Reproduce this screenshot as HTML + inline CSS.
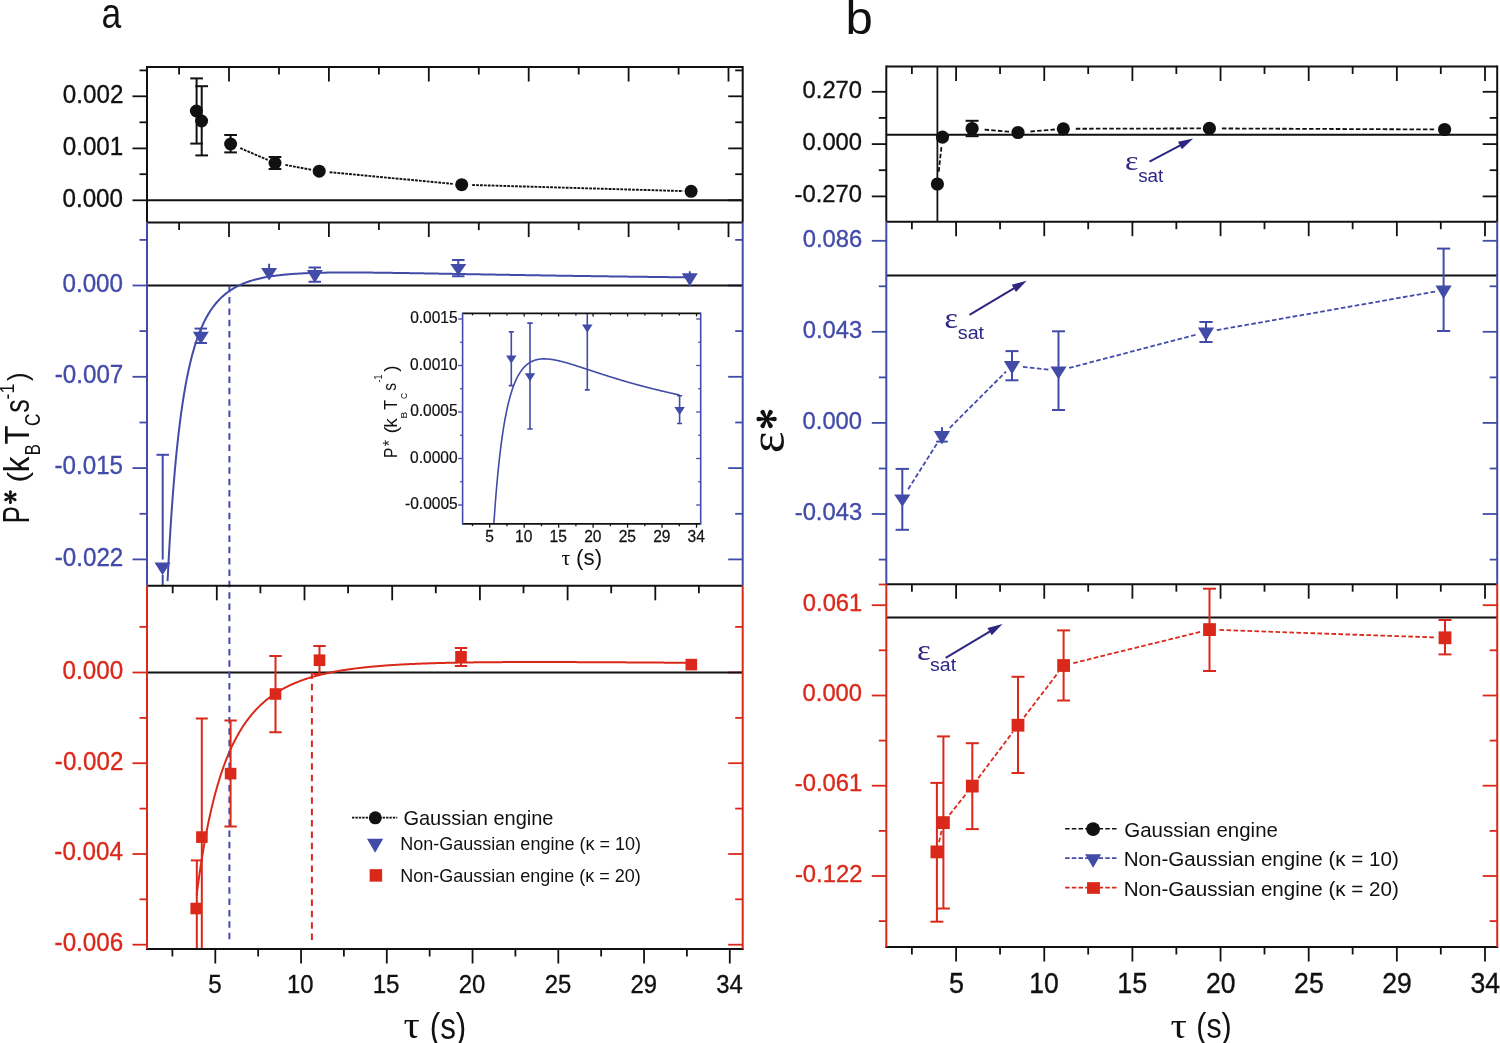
<!DOCTYPE html>
<html><head><meta charset="utf-8"><style>
html,body{margin:0;padding:0;background:#fff;}
svg{display:block;}
text{-webkit-font-smoothing:antialiased;}
</style></head><body>
<svg width="1500" height="1043" viewBox="0 0 1500 1043" font-family='"Liberation Sans", sans-serif'>
<rect width="1500" height="1043" fill="#fff"/>
<g style="will-change:transform">
<line x1="229.00" y1="67.00" x2="229.00" y2="81.50" stroke="#111" stroke-width="1.8" />
<line x1="328.90" y1="67.00" x2="328.90" y2="81.50" stroke="#111" stroke-width="1.8" />
<line x1="428.80" y1="67.00" x2="428.80" y2="81.50" stroke="#111" stroke-width="1.8" />
<line x1="528.70" y1="67.00" x2="528.70" y2="81.50" stroke="#111" stroke-width="1.8" />
<line x1="628.60" y1="67.00" x2="628.60" y2="81.50" stroke="#111" stroke-width="1.8" />
<line x1="728.50" y1="67.00" x2="728.50" y2="81.50" stroke="#111" stroke-width="1.8" />
<line x1="179.10" y1="67.00" x2="179.10" y2="74.50" stroke="#111" stroke-width="1.8" />
<line x1="279.00" y1="67.00" x2="279.00" y2="74.50" stroke="#111" stroke-width="1.8" />
<line x1="378.90" y1="67.00" x2="378.90" y2="74.50" stroke="#111" stroke-width="1.8" />
<line x1="478.80" y1="67.00" x2="478.80" y2="74.50" stroke="#111" stroke-width="1.8" />
<line x1="578.70" y1="67.00" x2="578.70" y2="74.50" stroke="#111" stroke-width="1.8" />
<line x1="678.60" y1="67.00" x2="678.60" y2="74.50" stroke="#111" stroke-width="1.8" />
<line x1="229.00" y1="222.60" x2="229.00" y2="237.10" stroke="#111" stroke-width="1.8" />
<line x1="328.90" y1="222.60" x2="328.90" y2="237.10" stroke="#111" stroke-width="1.8" />
<line x1="428.80" y1="222.60" x2="428.80" y2="237.10" stroke="#111" stroke-width="1.8" />
<line x1="528.70" y1="222.60" x2="528.70" y2="237.10" stroke="#111" stroke-width="1.8" />
<line x1="628.60" y1="222.60" x2="628.60" y2="237.10" stroke="#111" stroke-width="1.8" />
<line x1="728.50" y1="222.60" x2="728.50" y2="237.10" stroke="#111" stroke-width="1.8" />
<line x1="179.10" y1="222.60" x2="179.10" y2="230.10" stroke="#111" stroke-width="1.8" />
<line x1="279.00" y1="222.60" x2="279.00" y2="230.10" stroke="#111" stroke-width="1.8" />
<line x1="378.90" y1="222.60" x2="378.90" y2="230.10" stroke="#111" stroke-width="1.8" />
<line x1="478.80" y1="222.60" x2="478.80" y2="230.10" stroke="#111" stroke-width="1.8" />
<line x1="578.70" y1="222.60" x2="578.70" y2="230.10" stroke="#111" stroke-width="1.8" />
<line x1="678.60" y1="222.60" x2="678.60" y2="230.10" stroke="#111" stroke-width="1.8" />
<line x1="216.80" y1="585.80" x2="216.80" y2="600.30" stroke="#111" stroke-width="1.8" />
<line x1="304.50" y1="585.80" x2="304.50" y2="600.30" stroke="#111" stroke-width="1.8" />
<line x1="392.20" y1="585.80" x2="392.20" y2="600.30" stroke="#111" stroke-width="1.8" />
<line x1="479.90" y1="585.80" x2="479.90" y2="600.30" stroke="#111" stroke-width="1.8" />
<line x1="567.60" y1="585.80" x2="567.60" y2="600.30" stroke="#111" stroke-width="1.8" />
<line x1="655.30" y1="585.80" x2="655.30" y2="600.30" stroke="#111" stroke-width="1.8" />
<line x1="172.70" y1="585.80" x2="172.70" y2="593.30" stroke="#111" stroke-width="1.8" />
<line x1="260.40" y1="585.80" x2="260.40" y2="593.30" stroke="#111" stroke-width="1.8" />
<line x1="348.10" y1="585.80" x2="348.10" y2="593.30" stroke="#111" stroke-width="1.8" />
<line x1="435.80" y1="585.80" x2="435.80" y2="593.30" stroke="#111" stroke-width="1.8" />
<line x1="523.50" y1="585.80" x2="523.50" y2="593.30" stroke="#111" stroke-width="1.8" />
<line x1="611.20" y1="585.80" x2="611.20" y2="593.30" stroke="#111" stroke-width="1.8" />
<line x1="698.90" y1="585.80" x2="698.90" y2="593.30" stroke="#111" stroke-width="1.8" />
<line x1="215.30" y1="949.00" x2="215.30" y2="963.50" stroke="#111" stroke-width="1.8" />
<line x1="301.05" y1="949.00" x2="301.05" y2="963.50" stroke="#111" stroke-width="1.8" />
<line x1="386.80" y1="949.00" x2="386.80" y2="963.50" stroke="#111" stroke-width="1.8" />
<line x1="472.55" y1="949.00" x2="472.55" y2="963.50" stroke="#111" stroke-width="1.8" />
<line x1="558.30" y1="949.00" x2="558.30" y2="963.50" stroke="#111" stroke-width="1.8" />
<line x1="644.05" y1="949.00" x2="644.05" y2="963.50" stroke="#111" stroke-width="1.8" />
<line x1="729.80" y1="949.00" x2="729.80" y2="963.50" stroke="#111" stroke-width="1.8" />
<line x1="172.40" y1="949.00" x2="172.40" y2="956.50" stroke="#111" stroke-width="1.8" />
<line x1="258.15" y1="949.00" x2="258.15" y2="956.50" stroke="#111" stroke-width="1.8" />
<line x1="343.90" y1="949.00" x2="343.90" y2="956.50" stroke="#111" stroke-width="1.8" />
<line x1="429.65" y1="949.00" x2="429.65" y2="956.50" stroke="#111" stroke-width="1.8" />
<line x1="515.40" y1="949.00" x2="515.40" y2="956.50" stroke="#111" stroke-width="1.8" />
<line x1="601.15" y1="949.00" x2="601.15" y2="956.50" stroke="#111" stroke-width="1.8" />
<line x1="686.90" y1="949.00" x2="686.90" y2="956.50" stroke="#111" stroke-width="1.8" />
<line x1="132.50" y1="96.30" x2="147.00" y2="96.30" stroke="#111" stroke-width="1.8" />
<line x1="728.20" y1="96.30" x2="742.70" y2="96.30" stroke="#111" stroke-width="1.8" />
<line x1="132.50" y1="148.40" x2="147.00" y2="148.40" stroke="#111" stroke-width="1.8" />
<line x1="728.20" y1="148.40" x2="742.70" y2="148.40" stroke="#111" stroke-width="1.8" />
<line x1="132.50" y1="200.30" x2="147.00" y2="200.30" stroke="#111" stroke-width="1.8" />
<line x1="728.20" y1="200.30" x2="742.70" y2="200.30" stroke="#111" stroke-width="1.8" />
<line x1="139.50" y1="70.40" x2="147.00" y2="70.40" stroke="#111" stroke-width="1.8" />
<line x1="735.20" y1="70.40" x2="742.70" y2="70.40" stroke="#111" stroke-width="1.8" />
<line x1="139.50" y1="122.30" x2="147.00" y2="122.30" stroke="#111" stroke-width="1.8" />
<line x1="735.20" y1="122.30" x2="742.70" y2="122.30" stroke="#111" stroke-width="1.8" />
<line x1="139.50" y1="174.20" x2="147.00" y2="174.20" stroke="#111" stroke-width="1.8" />
<line x1="735.20" y1="174.20" x2="742.70" y2="174.20" stroke="#111" stroke-width="1.8" />
<text transform="translate(62.85,102.75) scale(0.9540,1)" font-size="25.35" fill="#111" stroke="#111" stroke-width="0.35" font-family='"Liberation Sans", sans-serif'>0.002</text>
<text transform="translate(62.73,154.85) scale(0.9540,1)" font-size="25.35" fill="#111" stroke="#111" stroke-width="0.35" font-family='"Liberation Sans", sans-serif'>0.001</text>
<text transform="translate(62.49,206.75) scale(0.9540,1)" font-size="25.35" fill="#111" stroke="#111" stroke-width="0.35" font-family='"Liberation Sans", sans-serif'>0.000</text>
<line x1="132.50" y1="285.50" x2="147.00" y2="285.50" stroke="#424BA8" stroke-width="1.8" />
<line x1="728.20" y1="285.50" x2="742.70" y2="285.50" stroke="#424BA8" stroke-width="1.8" />
<line x1="132.50" y1="376.80" x2="147.00" y2="376.80" stroke="#424BA8" stroke-width="1.8" />
<line x1="728.20" y1="376.80" x2="742.70" y2="376.80" stroke="#424BA8" stroke-width="1.8" />
<line x1="132.50" y1="468.10" x2="147.00" y2="468.10" stroke="#424BA8" stroke-width="1.8" />
<line x1="728.20" y1="468.10" x2="742.70" y2="468.10" stroke="#424BA8" stroke-width="1.8" />
<line x1="132.50" y1="559.40" x2="147.00" y2="559.40" stroke="#424BA8" stroke-width="1.8" />
<line x1="728.20" y1="559.40" x2="742.70" y2="559.40" stroke="#424BA8" stroke-width="1.8" />
<line x1="139.50" y1="239.90" x2="147.00" y2="239.90" stroke="#424BA8" stroke-width="1.8" />
<line x1="735.20" y1="239.90" x2="742.70" y2="239.90" stroke="#424BA8" stroke-width="1.8" />
<line x1="139.50" y1="331.10" x2="147.00" y2="331.10" stroke="#424BA8" stroke-width="1.8" />
<line x1="735.20" y1="331.10" x2="742.70" y2="331.10" stroke="#424BA8" stroke-width="1.8" />
<line x1="139.50" y1="422.50" x2="147.00" y2="422.50" stroke="#424BA8" stroke-width="1.8" />
<line x1="735.20" y1="422.50" x2="742.70" y2="422.50" stroke="#424BA8" stroke-width="1.8" />
<line x1="139.50" y1="513.80" x2="147.00" y2="513.80" stroke="#424BA8" stroke-width="1.8" />
<line x1="735.20" y1="513.80" x2="742.70" y2="513.80" stroke="#424BA8" stroke-width="1.8" />
<text transform="translate(62.49,291.85) scale(0.9540,1)" font-size="25.35" fill="#424BA8" stroke="#424BA8" stroke-width="0.35" font-family='"Liberation Sans", sans-serif'>0.000</text>
<text transform="translate(54.75,383.15) scale(0.9540,1)" font-size="25.35" fill="#424BA8" stroke="#424BA8" stroke-width="0.35" font-family='"Liberation Sans", sans-serif'>-0.007</text>
<text transform="translate(54.51,474.45) scale(0.9540,1)" font-size="25.35" fill="#424BA8" stroke="#424BA8" stroke-width="0.35" font-family='"Liberation Sans", sans-serif'>-0.015</text>
<text transform="translate(54.75,565.75) scale(0.9540,1)" font-size="25.35" fill="#424BA8" stroke="#424BA8" stroke-width="0.35" font-family='"Liberation Sans", sans-serif'>-0.022</text>
<line x1="132.50" y1="672.50" x2="147.00" y2="672.50" stroke="#DA291A" stroke-width="1.8" />
<line x1="728.20" y1="672.50" x2="742.70" y2="672.50" stroke="#DA291A" stroke-width="1.8" />
<line x1="132.50" y1="763.20" x2="147.00" y2="763.20" stroke="#DA291A" stroke-width="1.8" />
<line x1="728.20" y1="763.20" x2="742.70" y2="763.20" stroke="#DA291A" stroke-width="1.8" />
<line x1="132.50" y1="854.00" x2="147.00" y2="854.00" stroke="#DA291A" stroke-width="1.8" />
<line x1="728.20" y1="854.00" x2="742.70" y2="854.00" stroke="#DA291A" stroke-width="1.8" />
<line x1="132.50" y1="944.70" x2="147.00" y2="944.70" stroke="#DA291A" stroke-width="1.8" />
<line x1="728.20" y1="944.70" x2="742.70" y2="944.70" stroke="#DA291A" stroke-width="1.8" />
<line x1="139.50" y1="626.90" x2="147.00" y2="626.90" stroke="#DA291A" stroke-width="1.8" />
<line x1="735.20" y1="626.90" x2="742.70" y2="626.90" stroke="#DA291A" stroke-width="1.8" />
<line x1="139.50" y1="717.90" x2="147.00" y2="717.90" stroke="#DA291A" stroke-width="1.8" />
<line x1="735.20" y1="717.90" x2="742.70" y2="717.90" stroke="#DA291A" stroke-width="1.8" />
<line x1="139.50" y1="808.60" x2="147.00" y2="808.60" stroke="#DA291A" stroke-width="1.8" />
<line x1="735.20" y1="808.60" x2="742.70" y2="808.60" stroke="#DA291A" stroke-width="1.8" />
<line x1="139.50" y1="899.30" x2="147.00" y2="899.30" stroke="#DA291A" stroke-width="1.8" />
<line x1="735.20" y1="899.30" x2="742.70" y2="899.30" stroke="#DA291A" stroke-width="1.8" />
<text transform="translate(62.59,678.85) scale(0.9540,1)" font-size="25.35" fill="#DA291A" stroke="#DA291A" stroke-width="0.35" font-family='"Liberation Sans", sans-serif'>0.000</text>
<text transform="translate(54.85,769.55) scale(0.9540,1)" font-size="25.35" fill="#DA291A" stroke="#DA291A" stroke-width="0.35" font-family='"Liberation Sans", sans-serif'>-0.002</text>
<text transform="translate(54.36,860.35) scale(0.9540,1)" font-size="25.35" fill="#DA291A" stroke="#DA291A" stroke-width="0.35" font-family='"Liberation Sans", sans-serif'>-0.004</text>
<text transform="translate(54.61,951.05) scale(0.9540,1)" font-size="25.35" fill="#DA291A" stroke="#DA291A" stroke-width="0.35" font-family='"Liberation Sans", sans-serif'>-0.006</text>
<line x1="147.00" y1="200.30" x2="742.70" y2="200.30" stroke="#111" stroke-width="2" />
<line x1="147.00" y1="285.50" x2="742.70" y2="285.50" stroke="#111" stroke-width="2" />
<line x1="147.00" y1="672.50" x2="742.70" y2="672.50" stroke="#111" stroke-width="2" />
<text transform="translate(208.29,992.64) scale(0.9300,1)" font-size="26.00" fill="#111" stroke="#111" stroke-width="0.35" font-family='"Liberation Sans", sans-serif'>5</text>
<text transform="translate(287.04,992.64) scale(0.9300,1)" font-size="25.63" fill="#111" stroke="#111" stroke-width="0.35" font-family='"Liberation Sans", sans-serif'>10</text>
<text transform="translate(372.66,992.64) scale(0.9300,1)" font-size="26.00" fill="#111" stroke="#111" stroke-width="0.35" font-family='"Liberation Sans", sans-serif'>15</text>
<text transform="translate(458.84,992.64) scale(0.9300,1)" font-size="25.63" fill="#111" stroke="#111" stroke-width="0.35" font-family='"Liberation Sans", sans-serif'>20</text>
<text transform="translate(544.65,992.64) scale(0.9300,1)" font-size="25.63" fill="#111" stroke="#111" stroke-width="0.35" font-family='"Liberation Sans", sans-serif'>25</text>
<text transform="translate(630.46,992.64) scale(0.9300,1)" font-size="25.63" fill="#111" stroke="#111" stroke-width="0.35" font-family='"Liberation Sans", sans-serif'>29</text>
<text transform="translate(716.15,992.64) scale(0.9300,1)" font-size="25.63" fill="#111" stroke="#111" stroke-width="0.35" font-family='"Liberation Sans", sans-serif'>34</text>
<clipPath id="clipMid"><rect x="147.0" y="222.6" width="595.7" height="363.19999999999993"/></clipPath>
<clipPath id="clipRed"><rect x="147.0" y="585.8" width="595.7" height="363.20000000000005"/></clipPath>
<g clip-path="url(#clipMid)">
<polyline points="167.55,581.12 168.60,560.90 169.65,542.39 170.70,525.42 171.75,509.82 172.79,495.46 173.84,482.22 174.89,469.98 175.94,458.65 176.99,448.14 178.04,438.39 179.09,429.31 180.14,420.87 181.19,412.99 182.24,405.63 183.29,398.76 184.33,392.32 185.38,386.29 186.43,380.63 187.48,375.32 188.53,370.33 189.58,365.63 190.63,361.21 191.68,357.04 192.73,353.11 193.78,349.40 194.83,345.89 195.87,342.57 196.92,339.43 197.97,336.46 199.02,333.64 200.07,330.97 201.12,328.43 202.17,326.03 203.22,323.74 204.27,321.57 205.32,319.50 206.37,317.53 207.41,315.66 208.46,313.87 209.51,312.17 210.56,310.55 211.61,309.00 212.66,307.53 213.71,306.12 214.76,304.77 215.81,303.48 216.86,302.25 217.91,301.07 218.95,299.95 220.00,298.87 221.05,297.84 222.10,296.85 223.15,295.90 224.20,294.99 225.25,294.12 226.30,293.29 227.35,292.49 228.40,291.72 229.45,290.98 230.49,290.27 231.54,289.59 232.59,288.94 233.64,288.31 234.69,287.71 235.74,287.13 236.79,286.57 237.84,286.04 238.89,285.52 239.94,285.03 240.99,284.55 242.04,284.09 243.08,283.65 244.13,283.22 245.18,282.81 246.23,282.42 247.28,282.04 248.33,281.68 249.38,281.32 250.43,280.98 251.48,280.66 252.53,280.34 253.58,280.04 254.62,279.74 255.67,279.46 256.72,279.19 257.77,278.93 258.82,278.67 259.87,278.43 260.92,278.20 261.97,277.97 263.02,277.75 264.07,277.54 265.12,277.34 266.16,277.14 267.21,276.95 268.26,276.77 269.31,276.59 270.36,276.42 271.41,276.26 272.46,276.10 273.51,275.95 274.56,275.80 275.61,275.66 276.66,275.52 277.70,275.39 278.75,275.26 279.80,275.14 280.85,275.02 281.90,274.91 282.95,274.80 284.00,274.70 285.05,274.59 286.10,274.50 287.15,274.40 288.20,274.31 289.24,274.22 290.29,274.14 291.34,274.06 292.39,273.98 293.44,273.90 294.49,273.83 295.54,273.76 296.59,273.69 297.64,273.63 298.69,273.57 299.74,273.51 300.78,273.45 301.83,273.40 302.88,273.35 303.93,273.29 304.98,273.25 306.03,273.20 307.08,273.16 308.13,273.11 309.18,273.07 310.23,273.03 311.28,273.00 312.32,272.96 313.37,272.93 314.42,272.90 315.47,272.87 316.52,272.84 317.57,272.81 318.62,272.78 319.67,272.76 320.72,272.74 321.77,272.71 322.82,272.69 323.86,272.67 324.91,272.65 325.96,272.64 327.01,272.62 328.06,272.61 329.11,272.59 330.16,272.58 331.21,272.57 332.26,272.55 333.31,272.54 334.36,272.53 335.40,272.53 336.45,272.52 337.50,272.51 338.55,272.51 339.60,272.50 340.65,272.50 341.70,272.49 342.75,272.49 343.80,272.49 344.85,272.48 345.90,272.48 346.94,272.48 347.99,272.48 349.04,272.48 350.09,272.48 351.14,272.49 352.19,272.49 353.24,272.49 354.29,272.50 355.34,272.50 356.39,272.50 357.44,272.51 358.48,272.51 359.53,272.52 360.58,272.53 361.63,272.53 362.68,272.54 363.73,272.55 364.78,272.56 365.83,272.56 366.88,272.57 367.93,272.58 368.98,272.59 370.03,272.60 371.07,272.61 372.12,272.62 373.17,272.63 374.22,272.64 375.27,272.65 376.32,272.67 377.37,272.68 378.42,272.69 379.47,272.70 380.52,272.71 381.57,272.73 382.61,272.74 383.66,272.75 384.71,272.77 385.76,272.78 386.81,272.79 387.86,272.81 388.91,272.82 389.96,272.84 391.01,272.85 392.06,272.87 393.11,272.88 394.15,272.90 395.20,272.91 396.25,272.93 397.30,272.94 398.35,272.96 399.40,272.97 400.45,272.99 401.50,273.01 402.55,273.02 403.60,273.04 404.65,273.05 405.69,273.07 406.74,273.09 407.79,273.10 408.84,273.12 409.89,273.14 410.94,273.16 411.99,273.17 413.04,273.19 414.09,273.21 415.14,273.22 416.19,273.24 417.23,273.26 418.28,273.28 419.33,273.29 420.38,273.31 421.43,273.33 422.48,273.35 423.53,273.37 424.58,273.38 425.63,273.40 426.68,273.42 427.73,273.44 428.77,273.46 429.82,273.47 430.87,273.49 431.92,273.51 432.97,273.53 434.02,273.55 435.07,273.57 436.12,273.59 437.17,273.60 438.22,273.62 439.27,273.64 440.31,273.66 441.36,273.68 442.41,273.70 443.46,273.71 444.51,273.73 445.56,273.75 446.61,273.77 447.66,273.79 448.71,273.81 449.76,273.83 450.81,273.85 451.85,273.86 452.90,273.88 453.95,273.90 455.00,273.92 456.05,273.94 457.10,273.96 458.15,273.98 459.20,273.99 460.25,274.01 461.30,274.03 462.35,274.05 463.39,274.07 464.44,274.09 465.49,274.11 466.54,274.13 467.59,274.14 468.64,274.16 469.69,274.18 470.74,274.20 471.79,274.22 472.84,274.24 473.89,274.26 474.93,274.27 475.98,274.29 477.03,274.31 478.08,274.33 479.13,274.35 480.18,274.37 481.23,274.38 482.28,274.40 483.33,274.42 484.38,274.44 485.43,274.46 486.47,274.48 487.52,274.49 488.57,274.51 489.62,274.53 490.67,274.55 491.72,274.57 492.77,274.59 493.82,274.60 494.87,274.62 495.92,274.64 496.97,274.66 498.02,274.68 499.06,274.69 500.11,274.71 501.16,274.73 502.21,274.75 503.26,274.77 504.31,274.78 505.36,274.80 506.41,274.82 507.46,274.84 508.51,274.85 509.56,274.87 510.60,274.89 511.65,274.91 512.70,274.92 513.75,274.94 514.80,274.96 515.85,274.98 516.90,274.99 517.95,275.01 519.00,275.03 520.05,275.05 521.10,275.06 522.14,275.08 523.19,275.10 524.24,275.12 525.29,275.13 526.34,275.15 527.39,275.17 528.44,275.18 529.49,275.20 530.54,275.22 531.59,275.24 532.64,275.25 533.68,275.27 534.73,275.29 535.78,275.30 536.83,275.32 537.88,275.34 538.93,275.35 539.98,275.37 541.03,275.39 542.08,275.40 543.13,275.42 544.18,275.44 545.22,275.45 546.27,275.47 547.32,275.48 548.37,275.50 549.42,275.52 550.47,275.53 551.52,275.55 552.57,275.57 553.62,275.58 554.67,275.60 555.72,275.61 556.76,275.63 557.81,275.65 558.86,275.66 559.91,275.68 560.96,275.69 562.01,275.71 563.06,275.73 564.11,275.74 565.16,275.76 566.21,275.77 567.26,275.79 568.30,275.80 569.35,275.82 570.40,275.84 571.45,275.85 572.50,275.87 573.55,275.88 574.60,275.90 575.65,275.91 576.70,275.93 577.75,275.94 578.80,275.96 579.84,275.97 580.89,275.99 581.94,276.00 582.99,276.02 584.04,276.03 585.09,276.05 586.14,276.06 587.19,276.08 588.24,276.09 589.29,276.11 590.34,276.12 591.38,276.14 592.43,276.15 593.48,276.17 594.53,276.18 595.58,276.20 596.63,276.21 597.68,276.23 598.73,276.24 599.78,276.26 600.83,276.27 601.88,276.28 602.92,276.30 603.97,276.31 605.02,276.33 606.07,276.34 607.12,276.36 608.17,276.37 609.22,276.38 610.27,276.40 611.32,276.41 612.37,276.43 613.42,276.44 614.46,276.45 615.51,276.47 616.56,276.48 617.61,276.50 618.66,276.51 619.71,276.52 620.76,276.54 621.81,276.55 622.86,276.56 623.91,276.58 624.96,276.59 626.01,276.61 627.05,276.62 628.10,276.63 629.15,276.65 630.20,276.66 631.25,276.67 632.30,276.69 633.35,276.70 634.40,276.71 635.45,276.73 636.50,276.74 637.55,276.75 638.59,276.77 639.64,276.78 640.69,276.79 641.74,276.81 642.79,276.82 643.84,276.83 644.89,276.84 645.94,276.86 646.99,276.87 648.04,276.88 649.09,276.90 650.13,276.91 651.18,276.92 652.23,276.93 653.28,276.95 654.33,276.96 655.38,276.97 656.43,276.98 657.48,277.00 658.53,277.01 659.58,277.02 660.63,277.03 661.67,277.05 662.72,277.06 663.77,277.07 664.82,277.08 665.87,277.10 666.92,277.11 667.97,277.12 669.02,277.13 670.07,277.15 671.12,277.16 672.17,277.17 673.21,277.18 674.26,277.19 675.31,277.21 676.36,277.22 677.41,277.23 678.46,277.24 679.51,277.25 680.56,277.27 681.61,277.28 682.66,277.29 683.71,277.30 684.75,277.31 685.80,277.32 686.85,277.34 687.90,277.35 688.95,277.36 690.00,277.37" fill="none" stroke="#424BA8" stroke-width="2.0"  stroke-linejoin="round"/>
</g>
<polyline points="196.60,895.42 197.59,887.80 198.58,880.50 199.57,873.51 200.56,866.82 201.55,860.40 202.54,854.24 203.54,848.33 204.53,842.65 205.52,837.20 206.51,831.96 207.50,826.92 208.49,822.08 209.48,817.42 210.47,812.93 211.46,808.61 212.45,804.44 213.44,800.43 214.43,796.56 215.42,792.83 216.42,789.23 217.41,785.76 218.40,782.41 219.39,779.17 220.38,776.04 221.37,773.01 222.36,770.09 223.35,767.27 224.34,764.53 225.33,761.89 226.32,759.33 227.31,756.85 228.31,754.45 229.30,752.12 230.29,749.87 231.28,747.69 232.27,745.57 233.26,743.52 234.25,741.53 235.24,739.60 236.23,737.73 237.22,735.91 238.21,734.15 239.20,732.44 240.19,730.77 241.19,729.16 242.18,727.59 243.17,726.06 244.16,724.58 245.15,723.14 246.14,721.74 247.13,720.38 248.12,719.05 249.11,717.76 250.10,716.51 251.09,715.28 252.08,714.10 253.07,712.94 254.07,711.81 255.06,710.72 256.05,709.65 257.04,708.61 258.03,707.59 259.02,706.60 260.01,705.64 261.00,704.70 261.99,703.79 262.98,702.89 263.97,702.02 264.96,701.17 265.95,700.34 266.95,699.54 267.94,698.75 268.93,697.98 269.92,697.23 270.91,696.49 271.90,695.78 272.89,695.08 273.88,694.40 274.87,693.73 275.86,693.08 276.85,692.45 277.84,691.83 278.83,691.22 279.83,690.63 280.82,690.05 281.81,689.48 282.80,688.93 283.79,688.39 284.78,687.86 285.77,687.34 286.76,686.83 287.75,686.34 288.74,685.86 289.73,685.38 290.72,684.92 291.72,684.47 292.71,684.03 293.70,683.59 294.69,683.17 295.68,682.75 296.67,682.35 297.66,681.95 298.65,681.56 299.64,681.18 300.63,680.81 301.62,680.44 302.61,680.08 303.60,679.73 304.60,679.39 305.59,679.05 306.58,678.72 307.57,678.40 308.56,678.09 309.55,677.78 310.54,677.47 311.53,677.18 312.52,676.89 313.51,676.60 314.50,676.32 315.49,676.05 316.48,675.78 317.48,675.52 318.47,675.26 319.46,675.01 320.45,674.76 321.44,674.51 322.43,674.28 323.42,674.04 324.41,673.81 325.40,673.59 326.39,673.37 327.38,673.15 328.37,672.94 329.36,672.73 330.36,672.53 331.35,672.33 332.34,672.13 333.33,671.94 334.32,671.75 335.31,671.57 336.30,671.38 337.29,671.21 338.28,671.03 339.27,670.86 340.26,670.69 341.25,670.53 342.24,670.36 343.24,670.20 344.23,670.05 345.22,669.89 346.21,669.74 347.20,669.60 348.19,669.45 349.18,669.31 350.17,669.17 351.16,669.03 352.15,668.90 353.14,668.76 354.13,668.63 355.13,668.51 356.12,668.38 357.11,668.26 358.10,668.14 359.09,668.02 360.08,667.90 361.07,667.79 362.06,667.68 363.05,667.57 364.04,667.46 365.03,667.35 366.02,667.25 367.01,667.15 368.01,667.05 369.00,666.95 369.99,666.85 370.98,666.75 371.97,666.66 372.96,666.57 373.95,666.48 374.94,666.39 375.93,666.30 376.92,666.22 377.91,666.13 378.90,666.05 379.89,665.97 380.89,665.89 381.88,665.81 382.87,665.74 383.86,665.66 384.85,665.59 385.84,665.51 386.83,665.44 387.82,665.37 388.81,665.30 389.80,665.24 390.79,665.17 391.78,665.10 392.77,665.04 393.77,664.98 394.76,664.91 395.75,664.85 396.74,664.79 397.73,664.74 398.72,664.68 399.71,664.62 400.70,664.57 401.69,664.51 402.68,664.46 403.67,664.41 404.66,664.35 405.65,664.30 406.65,664.25 407.64,664.20 408.63,664.16 409.62,664.11 410.61,664.06 411.60,664.02 412.59,663.97 413.58,663.93 414.57,663.89 415.56,663.84 416.55,663.80 417.54,663.76 418.54,663.72 419.53,663.68 420.52,663.64 421.51,663.61 422.50,663.57 423.49,663.53 424.48,663.50 425.47,663.46 426.46,663.43 427.45,663.39 428.44,663.36 429.43,663.33 430.42,663.30 431.42,663.26 432.41,663.23 433.40,663.20 434.39,663.17 435.38,663.15 436.37,663.12 437.36,663.09 438.35,663.06 439.34,663.04 440.33,663.01 441.32,662.98 442.31,662.96 443.30,662.93 444.30,662.91 445.29,662.88 446.28,662.86 447.27,662.84 448.26,662.82 449.25,662.79 450.24,662.77 451.23,662.75 452.22,662.73 453.21,662.71 454.20,662.69 455.19,662.67 456.18,662.65 457.18,662.63 458.17,662.62 459.16,662.60 460.15,662.58 461.14,662.56 462.13,662.55 463.12,662.53 464.11,662.52 465.10,662.50 466.09,662.48 467.08,662.47 468.07,662.45 469.06,662.44 470.06,662.43 471.05,662.41 472.04,662.40 473.03,662.39 474.02,662.37 475.01,662.36 476.00,662.35 476.99,662.34 477.98,662.33 478.97,662.32 479.96,662.30 480.95,662.29 481.95,662.28 482.94,662.27 483.93,662.26 484.92,662.25 485.91,662.25 486.90,662.24 487.89,662.23 488.88,662.22 489.87,662.21 490.86,662.20 491.85,662.20 492.84,662.19 493.83,662.18 494.83,662.17 495.82,662.17 496.81,662.16 497.80,662.15 498.79,662.15 499.78,662.14 500.77,662.14 501.76,662.13 502.75,662.12 503.74,662.12 504.73,662.11 505.72,662.11 506.71,662.10 507.71,662.10 508.70,662.10 509.69,662.09 510.68,662.09 511.67,662.08 512.66,662.08 513.65,662.08 514.64,662.07 515.63,662.07 516.62,662.07 517.61,662.07 518.60,662.06 519.59,662.06 520.59,662.06 521.58,662.06 522.57,662.05 523.56,662.05 524.55,662.05 525.54,662.05 526.53,662.05 527.52,662.05 528.51,662.05 529.50,662.04 530.49,662.04 531.48,662.04 532.47,662.04 533.47,662.04 534.46,662.04 535.45,662.04 536.44,662.04 537.43,662.04 538.42,662.04 539.41,662.04 540.40,662.04 541.39,662.04 542.38,662.04 543.37,662.04 544.36,662.05 545.36,662.05 546.35,662.05 547.34,662.05 548.33,662.05 549.32,662.05 550.31,662.05 551.30,662.05 552.29,662.06 553.28,662.06 554.27,662.06 555.26,662.06 556.25,662.06 557.24,662.07 558.24,662.07 559.23,662.07 560.22,662.07 561.21,662.08 562.20,662.08 563.19,662.08 564.18,662.08 565.17,662.09 566.16,662.09 567.15,662.09 568.14,662.10 569.13,662.10 570.12,662.10 571.12,662.11 572.11,662.11 573.10,662.11 574.09,662.12 575.08,662.12 576.07,662.12 577.06,662.13 578.05,662.13 579.04,662.13 580.03,662.14 581.02,662.14 582.01,662.15 583.00,662.15 584.00,662.15 584.99,662.16 585.98,662.16 586.97,662.17 587.96,662.17 588.95,662.18 589.94,662.18 590.93,662.19 591.92,662.19 592.91,662.19 593.90,662.20 594.89,662.20 595.88,662.21 596.88,662.21 597.87,662.22 598.86,662.22 599.85,662.23 600.84,662.23 601.83,662.24 602.82,662.24 603.81,662.25 604.80,662.25 605.79,662.26 606.78,662.27 607.77,662.27 608.77,662.28 609.76,662.28 610.75,662.29 611.74,662.29 612.73,662.30 613.72,662.30 614.71,662.31 615.70,662.32 616.69,662.32 617.68,662.33 618.67,662.33 619.66,662.34 620.65,662.34 621.65,662.35 622.64,662.36 623.63,662.36 624.62,662.37 625.61,662.37 626.60,662.38 627.59,662.39 628.58,662.39 629.57,662.40 630.56,662.41 631.55,662.41 632.54,662.42 633.53,662.42 634.53,662.43 635.52,662.44 636.51,662.44 637.50,662.45 638.49,662.46 639.48,662.46 640.47,662.47 641.46,662.48 642.45,662.48 643.44,662.49 644.43,662.49 645.42,662.50 646.41,662.51 647.41,662.51 648.40,662.52 649.39,662.53 650.38,662.53 651.37,662.54 652.36,662.55 653.35,662.55 654.34,662.56 655.33,662.57 656.32,662.57 657.31,662.58 658.30,662.59 659.29,662.60 660.29,662.60 661.28,662.61 662.27,662.62 663.26,662.62 664.25,662.63 665.24,662.64 666.23,662.64 667.22,662.65 668.21,662.66 669.20,662.66 670.19,662.67 671.18,662.68 672.18,662.69 673.17,662.69 674.16,662.70 675.15,662.71 676.14,662.71 677.13,662.72 678.12,662.73 679.11,662.74 680.10,662.74 681.09,662.75 682.08,662.76 683.07,662.76 684.06,662.77 685.06,662.78 686.05,662.79 687.04,662.79 688.03,662.80 689.02,662.81 690.01,662.82 691.00,662.82" fill="none" stroke="#DA291A" stroke-width="2.0"  stroke-linejoin="round"/>
<line x1="229.40" y1="285.70" x2="229.40" y2="939.30" stroke="#424BA8" stroke-width="2.0" stroke-dasharray="6.5 4.85"/>
<line x1="311.90" y1="672.50" x2="311.90" y2="941.00" stroke="#DA291A" stroke-width="2.0" stroke-dasharray="6.5 4.85"/>
<line x1="196.60" y1="78.40" x2="196.60" y2="143.60" stroke="#111" stroke-width="2.0" />
<line x1="190.25" y1="78.40" x2="202.95" y2="78.40" stroke="#111" stroke-width="2.0" />
<line x1="190.25" y1="143.60" x2="202.95" y2="143.60" stroke="#111" stroke-width="2.0" />
<line x1="201.70" y1="86.20" x2="201.70" y2="155.40" stroke="#111" stroke-width="2.0" />
<line x1="195.35" y1="86.20" x2="208.05" y2="86.20" stroke="#111" stroke-width="2.0" />
<line x1="195.35" y1="155.40" x2="208.05" y2="155.40" stroke="#111" stroke-width="2.0" />
<line x1="230.60" y1="135.00" x2="230.60" y2="152.40" stroke="#111" stroke-width="2.0" />
<line x1="224.25" y1="135.00" x2="236.95" y2="135.00" stroke="#111" stroke-width="2.0" />
<line x1="224.25" y1="152.40" x2="236.95" y2="152.40" stroke="#111" stroke-width="2.0" />
<line x1="275.00" y1="157.00" x2="275.00" y2="169.00" stroke="#111" stroke-width="2.0" />
<line x1="268.65" y1="157.00" x2="281.35" y2="157.00" stroke="#111" stroke-width="2.0" />
<line x1="268.65" y1="169.00" x2="281.35" y2="169.00" stroke="#111" stroke-width="2.0" />
<line x1="240.25" y1="148.13" x2="267.65" y2="159.85" stroke="#111" stroke-width="1.9" stroke-dasharray="2.8 1.1"/>
<line x1="285.32" y1="164.92" x2="311.33" y2="169.74" stroke="#111" stroke-width="1.9" stroke-dasharray="2.8 1.1"/>
<line x1="329.65" y1="172.19" x2="453.74" y2="183.95" stroke="#111" stroke-width="1.9" stroke-dasharray="2.8 1.1"/>
<line x1="472.20" y1="185.00" x2="683.10" y2="191.07" stroke="#111" stroke-width="1.9" stroke-dasharray="2.8 1.1"/>
<circle cx="196.40" cy="111.00" r="6.5" fill="#111"/>
<circle cx="201.60" cy="121.00" r="6.5" fill="#111"/>
<circle cx="230.60" cy="144.00" r="6.5" fill="#111"/>
<circle cx="275.00" cy="163.00" r="6.5" fill="#111"/>
<circle cx="319.20" cy="171.20" r="6.5" fill="#111"/>
<circle cx="461.70" cy="184.70" r="6.5" fill="#111"/>
<circle cx="691.10" cy="191.30" r="6.5" fill="#111"/>
<g clip-path="url(#clipMid)">
<line x1="162.70" y1="454.80" x2="162.70" y2="559.50" stroke="#424BA8" stroke-width="2.0" />
<line x1="156.45" y1="454.80" x2="168.95" y2="454.80" stroke="#424BA8" stroke-width="2.0" />
<line x1="162.70" y1="575.00" x2="162.70" y2="600.00" stroke="#424BA8" stroke-width="2.0" />
<line x1="200.80" y1="328.60" x2="200.80" y2="343.00" stroke="#424BA8" stroke-width="2.0" />
<line x1="194.55" y1="328.60" x2="207.05" y2="328.60" stroke="#424BA8" stroke-width="2.0" />
<line x1="194.55" y1="343.00" x2="207.05" y2="343.00" stroke="#424BA8" stroke-width="2.0" />
<line x1="269.10" y1="263.80" x2="269.10" y2="278.00" stroke="#424BA8" stroke-width="2.0" />
<line x1="314.80" y1="267.60" x2="314.80" y2="281.70" stroke="#424BA8" stroke-width="2.0" />
<line x1="308.55" y1="267.60" x2="321.05" y2="267.60" stroke="#424BA8" stroke-width="2.0" />
<line x1="308.55" y1="281.70" x2="321.05" y2="281.70" stroke="#424BA8" stroke-width="2.0" />
<line x1="458.30" y1="260.00" x2="458.30" y2="276.20" stroke="#424BA8" stroke-width="2.0" />
<line x1="452.05" y1="260.00" x2="464.55" y2="260.00" stroke="#424BA8" stroke-width="2.0" />
<line x1="452.05" y1="276.20" x2="464.55" y2="276.20" stroke="#424BA8" stroke-width="2.0" />
<line x1="689.80" y1="271.20" x2="689.80" y2="286.60" stroke="#424BA8" stroke-width="2.0" />
<polygon points="154.50,562.50 170.50,562.50 162.50,575.30" fill="#424BA8"/>
<polygon points="192.80,331.70 208.80,331.70 200.80,344.30" fill="#424BA8"/>
<polygon points="261.10,268.00 277.10,268.00 269.10,280.60" fill="#424BA8"/>
<polygon points="306.80,270.00 322.80,270.00 314.80,283.00" fill="#424BA8"/>
<polygon points="450.30,264.00 466.30,264.00 458.30,275.50" fill="#424BA8"/>
<polygon points="681.80,273.20 697.80,273.20 689.80,286.00" fill="#424BA8"/>
</g>
<g clip-path="url(#clipRed)">
<line x1="196.80" y1="860.40" x2="196.80" y2="960.00" stroke="#DA291A" stroke-width="2.0" />
<line x1="190.80" y1="860.40" x2="202.80" y2="860.40" stroke="#DA291A" stroke-width="2.0" />
<line x1="201.80" y1="718.60" x2="201.80" y2="960.00" stroke="#DA291A" stroke-width="2.0" />
<line x1="195.80" y1="718.60" x2="207.80" y2="718.60" stroke="#DA291A" stroke-width="2.0" />
<line x1="230.60" y1="720.60" x2="230.60" y2="826.50" stroke="#DA291A" stroke-width="2.0" />
<line x1="224.40" y1="720.60" x2="236.80" y2="720.60" stroke="#DA291A" stroke-width="2.0" />
<line x1="224.40" y1="826.50" x2="236.80" y2="826.50" stroke="#DA291A" stroke-width="2.0" />
<line x1="275.50" y1="655.90" x2="275.50" y2="732.20" stroke="#DA291A" stroke-width="2.0" />
<line x1="269.30" y1="655.90" x2="281.70" y2="655.90" stroke="#DA291A" stroke-width="2.0" />
<line x1="269.30" y1="732.20" x2="281.70" y2="732.20" stroke="#DA291A" stroke-width="2.0" />
<line x1="319.50" y1="646.00" x2="319.50" y2="674.00" stroke="#DA291A" stroke-width="2.0" />
<line x1="313.30" y1="646.00" x2="325.70" y2="646.00" stroke="#DA291A" stroke-width="2.0" />
<line x1="313.30" y1="674.00" x2="325.70" y2="674.00" stroke="#DA291A" stroke-width="2.0" />
<line x1="461.00" y1="648.00" x2="461.00" y2="666.00" stroke="#DA291A" stroke-width="2.0" />
<line x1="454.80" y1="648.00" x2="467.20" y2="648.00" stroke="#DA291A" stroke-width="2.0" />
<line x1="454.80" y1="666.00" x2="467.20" y2="666.00" stroke="#DA291A" stroke-width="2.0" />
<rect x="190.40" y="902.70" width="11.6" height="11.6" fill="#DA291A"/>
<rect x="196.10" y="831.30" width="11.6" height="11.6" fill="#DA291A"/>
<rect x="224.80" y="767.80" width="11.6" height="11.6" fill="#DA291A"/>
<rect x="269.70" y="688.20" width="11.6" height="11.6" fill="#DA291A"/>
<rect x="313.70" y="654.40" width="11.6" height="11.6" fill="#DA291A"/>
<rect x="455.20" y="651.00" width="11.6" height="11.6" fill="#DA291A"/>
<rect x="685.50" y="658.80" width="11.6" height="11.6" fill="#DA291A"/>
</g>
<line x1="458.10" y1="319.00" x2="462.60" y2="319.00" stroke="#424BA8" stroke-width="1.3" />
<line x1="696.20" y1="319.00" x2="700.70" y2="319.00" stroke="#424BA8" stroke-width="1.3" />
<line x1="458.10" y1="365.50" x2="462.60" y2="365.50" stroke="#424BA8" stroke-width="1.3" />
<line x1="696.20" y1="365.50" x2="700.70" y2="365.50" stroke="#424BA8" stroke-width="1.3" />
<line x1="458.10" y1="412.00" x2="462.60" y2="412.00" stroke="#424BA8" stroke-width="1.3" />
<line x1="696.20" y1="412.00" x2="700.70" y2="412.00" stroke="#424BA8" stroke-width="1.3" />
<line x1="458.10" y1="458.50" x2="462.60" y2="458.50" stroke="#424BA8" stroke-width="1.3" />
<line x1="696.20" y1="458.50" x2="700.70" y2="458.50" stroke="#424BA8" stroke-width="1.3" />
<line x1="458.10" y1="505.00" x2="462.60" y2="505.00" stroke="#424BA8" stroke-width="1.3" />
<line x1="696.20" y1="505.00" x2="700.70" y2="505.00" stroke="#424BA8" stroke-width="1.3" />
<line x1="460.10" y1="342.25" x2="462.60" y2="342.25" stroke="#424BA8" stroke-width="1.3" />
<line x1="698.20" y1="342.25" x2="700.70" y2="342.25" stroke="#424BA8" stroke-width="1.3" />
<line x1="460.10" y1="388.75" x2="462.60" y2="388.75" stroke="#424BA8" stroke-width="1.3" />
<line x1="698.20" y1="388.75" x2="700.70" y2="388.75" stroke="#424BA8" stroke-width="1.3" />
<line x1="460.10" y1="435.25" x2="462.60" y2="435.25" stroke="#424BA8" stroke-width="1.3" />
<line x1="698.20" y1="435.25" x2="700.70" y2="435.25" stroke="#424BA8" stroke-width="1.3" />
<line x1="460.10" y1="481.75" x2="462.60" y2="481.75" stroke="#424BA8" stroke-width="1.3" />
<line x1="698.20" y1="481.75" x2="700.70" y2="481.75" stroke="#424BA8" stroke-width="1.3" />
<line x1="489.70" y1="313.40" x2="489.70" y2="316.40" stroke="#111" stroke-width="1.3" />
<line x1="489.70" y1="523.90" x2="489.70" y2="527.70" stroke="#111" stroke-width="1.3" />
<line x1="524.17" y1="313.40" x2="524.17" y2="316.40" stroke="#111" stroke-width="1.3" />
<line x1="524.17" y1="523.90" x2="524.17" y2="527.70" stroke="#111" stroke-width="1.3" />
<line x1="558.64" y1="313.40" x2="558.64" y2="316.40" stroke="#111" stroke-width="1.3" />
<line x1="558.64" y1="523.90" x2="558.64" y2="527.70" stroke="#111" stroke-width="1.3" />
<line x1="593.11" y1="313.40" x2="593.11" y2="316.40" stroke="#111" stroke-width="1.3" />
<line x1="593.11" y1="523.90" x2="593.11" y2="527.70" stroke="#111" stroke-width="1.3" />
<line x1="627.58" y1="313.40" x2="627.58" y2="316.40" stroke="#111" stroke-width="1.3" />
<line x1="627.58" y1="523.90" x2="627.58" y2="527.70" stroke="#111" stroke-width="1.3" />
<line x1="662.05" y1="313.40" x2="662.05" y2="316.40" stroke="#111" stroke-width="1.3" />
<line x1="662.05" y1="523.90" x2="662.05" y2="527.70" stroke="#111" stroke-width="1.3" />
<line x1="696.52" y1="313.40" x2="696.52" y2="316.40" stroke="#111" stroke-width="1.3" />
<line x1="696.52" y1="523.90" x2="696.52" y2="527.70" stroke="#111" stroke-width="1.3" />
<line x1="472.50" y1="313.40" x2="472.50" y2="315.40" stroke="#111" stroke-width="1.3" />
<line x1="472.50" y1="523.90" x2="472.50" y2="526.20" stroke="#111" stroke-width="1.3" />
<line x1="506.97" y1="313.40" x2="506.97" y2="315.40" stroke="#111" stroke-width="1.3" />
<line x1="506.97" y1="523.90" x2="506.97" y2="526.20" stroke="#111" stroke-width="1.3" />
<line x1="541.44" y1="313.40" x2="541.44" y2="315.40" stroke="#111" stroke-width="1.3" />
<line x1="541.44" y1="523.90" x2="541.44" y2="526.20" stroke="#111" stroke-width="1.3" />
<line x1="575.91" y1="313.40" x2="575.91" y2="315.40" stroke="#111" stroke-width="1.3" />
<line x1="575.91" y1="523.90" x2="575.91" y2="526.20" stroke="#111" stroke-width="1.3" />
<line x1="610.38" y1="313.40" x2="610.38" y2="315.40" stroke="#111" stroke-width="1.3" />
<line x1="610.38" y1="523.90" x2="610.38" y2="526.20" stroke="#111" stroke-width="1.3" />
<line x1="644.85" y1="313.40" x2="644.85" y2="315.40" stroke="#111" stroke-width="1.3" />
<line x1="644.85" y1="523.90" x2="644.85" y2="526.20" stroke="#111" stroke-width="1.3" />
<line x1="679.32" y1="313.40" x2="679.32" y2="315.40" stroke="#111" stroke-width="1.3" />
<line x1="679.32" y1="523.90" x2="679.32" y2="526.20" stroke="#111" stroke-width="1.3" />
<text transform="translate(410.20,323.03) scale(0.9170,1)" font-size="16.90" fill="#111" stroke="#111" stroke-width="0.25" font-family='"Liberation Sans", sans-serif'>0.0015</text>
<text transform="translate(410.12,369.53) scale(0.9170,1)" font-size="16.90" fill="#111" stroke="#111" stroke-width="0.25" font-family='"Liberation Sans", sans-serif'>0.0010</text>
<text transform="translate(410.20,416.03) scale(0.9170,1)" font-size="16.90" fill="#111" stroke="#111" stroke-width="0.25" font-family='"Liberation Sans", sans-serif'>0.0005</text>
<text transform="translate(410.12,462.53) scale(0.9170,1)" font-size="16.90" fill="#111" stroke="#111" stroke-width="0.25" font-family='"Liberation Sans", sans-serif'>0.0000</text>
<text transform="translate(405.08,509.03) scale(0.9170,1)" font-size="16.90" fill="#111" stroke="#111" stroke-width="0.25" font-family='"Liberation Sans", sans-serif'>-0.0005</text>
<text transform="translate(485.18,541.54) scale(0.9500,1)" font-size="16.40" fill="#111" stroke="#111" stroke-width="0.25" font-family='"Liberation Sans", sans-serif'>5</text>
<text transform="translate(515.01,541.54) scale(0.9500,1)" font-size="16.40" fill="#111" stroke="#111" stroke-width="0.25" font-family='"Liberation Sans", sans-serif'>10</text>
<text transform="translate(549.52,541.54) scale(0.9500,1)" font-size="16.40" fill="#111" stroke="#111" stroke-width="0.25" font-family='"Liberation Sans", sans-serif'>15</text>
<text transform="translate(584.15,541.54) scale(0.9500,1)" font-size="16.40" fill="#111" stroke="#111" stroke-width="0.25" font-family='"Liberation Sans", sans-serif'>20</text>
<text transform="translate(618.66,541.54) scale(0.9500,1)" font-size="16.40" fill="#111" stroke="#111" stroke-width="0.25" font-family='"Liberation Sans", sans-serif'>25</text>
<text transform="translate(653.16,541.54) scale(0.9500,1)" font-size="16.40" fill="#111" stroke="#111" stroke-width="0.25" font-family='"Liberation Sans", sans-serif'>29</text>
<text transform="translate(687.60,541.54) scale(0.9500,1)" font-size="16.40" fill="#111" stroke="#111" stroke-width="0.25" font-family='"Liberation Sans", sans-serif'>34</text>
<text transform="translate(561.56,565.30) scale(1.0857,1)" font-size="20.21" fill="#111" font-family='"Liberation Serif", serif'>&#964;</text>
<text transform="translate(576.06,565.34) scale(1.0270,1)" font-size="21.71" fill="#111" font-family='"Liberation Sans", sans-serif'>(s)</text>
<clipPath id="clipIn"><rect x="462.6" y="313.4" width="238.10000000000002" height="210.5"/></clipPath>
<g clip-path="url(#clipIn)">
<polyline points="493.00,536.76 493.62,526.93 494.25,517.68 494.87,508.97 495.50,500.76 496.12,493.01 496.74,485.70 497.37,478.81 497.99,472.29 498.62,466.14 499.24,460.32 499.86,454.81 500.49,449.61 501.11,444.68 501.74,440.02 502.36,435.60 502.99,431.42 503.61,427.46 504.23,423.70 504.86,420.14 505.48,416.76 506.11,413.56 506.73,410.52 507.35,407.64 507.98,404.90 508.60,402.31 509.23,399.84 509.85,397.51 510.47,395.29 511.10,393.18 511.72,391.18 512.35,389.28 512.97,387.48 513.59,385.77 514.22,384.14 514.84,382.60 515.47,381.14 516.09,379.75 516.72,378.43 517.34,377.18 517.96,376.00 518.59,374.88 519.21,373.81 519.84,372.80 520.46,371.85 521.08,370.94 521.71,370.09 522.33,369.28 522.96,368.51 523.58,367.79 524.20,367.11 524.83,366.47 525.45,365.86 526.08,365.29 526.70,364.75 527.32,364.24 527.95,363.77 528.57,363.32 529.20,362.90 529.82,362.51 530.44,362.15 531.07,361.81 531.69,361.49 532.32,361.20 532.94,360.92 533.57,360.67 534.19,360.44 534.81,360.23 535.44,360.03 536.06,359.86 536.69,359.70 537.31,359.55 537.93,359.42 538.56,359.31 539.18,359.21 539.81,359.12 540.43,359.05 541.05,358.99 541.68,358.94 542.30,358.90 542.93,358.88 543.55,358.86 544.17,358.86 544.80,358.86 545.42,358.87 546.05,358.90 546.67,358.93 547.29,358.97 547.92,359.01 548.54,359.07 549.17,359.13 549.79,359.20 550.42,359.27 551.04,359.36 551.66,359.44 552.29,359.54 552.91,359.64 553.54,359.74 554.16,359.85 554.78,359.97 555.41,360.09 556.03,360.21 556.66,360.34 557.28,360.47 557.90,360.61 558.53,360.75 559.15,360.89 559.78,361.04 560.40,361.19 561.02,361.34 561.65,361.50 562.27,361.66 562.90,361.82 563.52,361.99 564.15,362.16 564.77,362.33 565.39,362.50 566.02,362.68 566.64,362.85 567.27,363.03 567.89,363.21 568.51,363.39 569.14,363.58 569.76,363.77 570.39,363.95 571.01,364.14 571.63,364.33 572.26,364.52 572.88,364.72 573.51,364.91 574.13,365.10 574.75,365.30 575.38,365.50 576.00,365.69 576.63,365.89 577.25,366.09 577.87,366.29 578.50,366.49 579.12,366.70 579.75,366.90 580.37,367.10 581.00,367.30 581.62,367.51 582.24,367.71 582.87,367.91 583.49,368.12 584.12,368.32 584.74,368.53 585.36,368.73 585.99,368.94 586.61,369.14 587.24,369.35 587.86,369.56 588.48,369.76 589.11,369.97 589.73,370.17 590.36,370.38 590.98,370.58 591.60,370.79 592.23,371.00 592.85,371.20 593.48,371.41 594.10,371.61 594.73,371.82 595.35,372.02 595.97,372.22 596.60,372.43 597.22,372.63 597.85,372.84 598.47,373.04 599.09,373.24 599.72,373.45 600.34,373.65 600.97,373.85 601.59,374.05 602.21,374.25 602.84,374.45 603.46,374.65 604.09,374.85 604.71,375.05 605.33,375.25 605.96,375.45 606.58,375.65 607.21,375.85 607.83,376.05 608.45,376.24 609.08,376.44 609.70,376.64 610.33,376.83 610.95,377.03 611.58,377.22 612.20,377.41 612.82,377.61 613.45,377.80 614.07,377.99 614.70,378.18 615.32,378.38 615.94,378.57 616.57,378.76 617.19,378.95 617.82,379.14 618.44,379.32 619.06,379.51 619.69,379.70 620.31,379.89 620.94,380.07 621.56,380.26 622.18,380.44 622.81,380.63 623.43,380.81 624.06,380.99 624.68,381.18 625.31,381.36 625.93,381.54 626.55,381.72 627.18,381.90 627.80,382.08 628.43,382.26 629.05,382.44 629.67,382.62 630.30,382.79 630.92,382.97 631.55,383.15 632.17,383.32 632.79,383.50 633.42,383.67 634.04,383.84 634.67,384.02 635.29,384.19 635.91,384.36 636.54,384.53 637.16,384.70 637.79,384.87 638.41,385.04 639.03,385.21 639.66,385.38 640.28,385.55 640.91,385.72 641.53,385.88 642.16,386.05 642.78,386.21 643.40,386.38 644.03,386.54 644.65,386.70 645.28,386.87 645.90,387.03 646.52,387.19 647.15,387.35 647.77,387.51 648.40,387.67 649.02,387.83 649.64,387.99 650.27,388.15 650.89,388.31 651.52,388.46 652.14,388.62 652.76,388.78 653.39,388.93 654.01,389.09 654.64,389.24 655.26,389.39 655.88,389.55 656.51,389.70 657.13,389.85 657.76,390.00 658.38,390.15 659.01,390.30 659.63,390.45 660.25,390.60 660.88,390.75 661.50,390.90 662.13,391.04 662.75,391.19 663.37,391.34 664.00,391.48 664.62,391.63 665.25,391.77 665.87,391.92 666.49,392.06 667.12,392.20 667.74,392.35 668.37,392.49 668.99,392.63 669.61,392.77 670.24,392.91 670.86,393.05 671.49,393.19 672.11,393.33 672.74,393.47 673.36,393.60 673.98,393.74 674.61,393.88 675.23,394.01 675.86,394.15 676.48,394.29 677.10,394.42 677.73,394.55 678.35,394.69 678.98,394.82 679.60,394.95" fill="none" stroke="#424BA8" stroke-width="1.6"  stroke-linejoin="round"/>
<line x1="511.30" y1="331.90" x2="511.30" y2="385.60" stroke="#424BA8" stroke-width="1.6" />
<line x1="508.80" y1="331.90" x2="513.80" y2="331.90" stroke="#424BA8" stroke-width="1.6" />
<line x1="508.80" y1="385.60" x2="513.80" y2="385.60" stroke="#424BA8" stroke-width="1.6" />
<line x1="530.00" y1="323.10" x2="530.00" y2="429.00" stroke="#424BA8" stroke-width="1.6" />
<line x1="527.30" y1="323.10" x2="532.70" y2="323.10" stroke="#424BA8" stroke-width="1.6" />
<line x1="527.30" y1="429.00" x2="532.70" y2="429.00" stroke="#424BA8" stroke-width="1.6" />
<line x1="587.30" y1="312.00" x2="587.30" y2="389.90" stroke="#424BA8" stroke-width="1.6" />
<line x1="584.80" y1="389.90" x2="589.80" y2="389.90" stroke="#424BA8" stroke-width="1.6" />
<line x1="679.60" y1="395.80" x2="679.60" y2="423.50" stroke="#424BA8" stroke-width="1.6" />
<line x1="677.10" y1="395.80" x2="682.10" y2="395.80" stroke="#424BA8" stroke-width="1.6" />
<line x1="677.10" y1="423.50" x2="682.10" y2="423.50" stroke="#424BA8" stroke-width="1.6" />
<polygon points="506.05,355.60 516.55,355.60 511.30,363.60" fill="#424BA8"/>
<polygon points="524.75,373.30 535.25,373.30 530.00,381.30" fill="#424BA8"/>
<polygon points="582.05,324.60 592.55,324.60 587.30,332.80" fill="#424BA8"/>
<polygon points="674.35,407.00 684.85,407.00 679.60,415.00" fill="#424BA8"/>
</g>
<line x1="462.60" y1="313.40" x2="700.70" y2="313.40" stroke="#111" stroke-width="1.7" />
<line x1="462.60" y1="523.90" x2="700.70" y2="523.90" stroke="#111" stroke-width="1.7" />
<line x1="462.60" y1="312.60" x2="462.60" y2="524.70" stroke="#424BA8" stroke-width="1.6" />
<line x1="700.70" y1="312.60" x2="700.70" y2="524.70" stroke="#424BA8" stroke-width="1.6" />
<text transform="translate(396.60,458.04) rotate(-90) scale(0.8110,1)" font-size="19.13" fill="#111" font-family='"Liberation Sans", sans-serif'>P</text>
<text transform="translate(395.43,446.24) rotate(-90) scale(0.9244,1)" font-size="17.43" fill="#111" font-family='"Liberation Sans", sans-serif'>*</text>
<text transform="translate(396.66,433.62) rotate(-90) scale(1.1142,1)" font-size="18.29" fill="#111" font-family='"Liberation Sans", sans-serif'>(</text>
<text transform="translate(396.60,427.74) rotate(-90) scale(1.0480,1)" font-size="18.21" fill="#111" font-family='"Liberation Sans", sans-serif'>k</text>
<text transform="translate(407.30,418.51) rotate(-90) scale(1.0242,1)" font-size="9.86" fill="#111" font-family='"Liberation Sans", sans-serif'>B</text>
<text transform="translate(396.60,409.73) rotate(-90) scale(0.8529,1)" font-size="19.13" fill="#111" font-family='"Liberation Sans", sans-serif'>T</text>
<text transform="translate(407.20,399.02) rotate(-90) scale(0.8715,1)" font-size="9.58" fill="#111" font-family='"Liberation Sans", sans-serif'>C</text>
<text transform="translate(396.42,390.77) rotate(-90) scale(0.8693,1)" font-size="17.98" fill="#111" font-family='"Liberation Sans", sans-serif'>s</text>
<text transform="translate(382.00,382.49) rotate(-90) scale(0.7547,1)" font-size="11.59" fill="#111" font-family='"Liberation Sans", sans-serif'>-1</text>
<text transform="translate(396.66,371.79) rotate(-90) scale(1.0110,1)" font-size="18.29" fill="#111" font-family='"Liberation Sans", sans-serif'>)</text>
<line x1="352.00" y1="817.70" x2="397.20" y2="817.70" stroke="#111" stroke-width="1.8" stroke-dasharray="2.4 1.0"/>
<circle cx="375.30" cy="817.80" r="6.5" fill="#111"/>
<text transform="translate(403.40,824.80) scale(0.9682,1)" font-size="20.67" fill="#111" font-family='"Liberation Sans", sans-serif'>Gaussian engine</text>
<polygon points="367.00,838.80 383.20,838.80 375.10,852.70" fill="#424BA8"/>
<text transform="translate(400.36,850.10) scale(0.9612,1)" font-size="18.72" fill="#111" font-family='"Liberation Sans", sans-serif'>Non-Gaussian engine (&#954; = 10)</text>
<rect x="369.65" y="869.15" width="12.5" height="12.5" fill="#DA291A"/>
<text transform="translate(400.36,882.20) scale(0.9549,1)" font-size="18.85" fill="#111" font-family='"Liberation Sans", sans-serif'>Non-Gaussian engine (&#954; = 20)</text>
<line x1="147.00" y1="67.00" x2="742.70" y2="67.00" stroke="#111" stroke-width="2.0" />
<line x1="147.00" y1="222.60" x2="742.70" y2="222.60" stroke="#111" stroke-width="2.0" />
<line x1="147.00" y1="585.80" x2="742.70" y2="585.80" stroke="#111" stroke-width="2.0" />
<line x1="146.00" y1="949.00" x2="743.70" y2="949.00" stroke="#111" stroke-width="2.0" />
<line x1="147.00" y1="66.00" x2="147.00" y2="222.60" stroke="#111" stroke-width="2.0" />
<line x1="742.70" y1="66.00" x2="742.70" y2="222.60" stroke="#111" stroke-width="2.0" />
<line x1="147.00" y1="222.60" x2="147.00" y2="585.80" stroke="#424BA8" stroke-width="2.0" />
<line x1="742.70" y1="222.60" x2="742.70" y2="585.80" stroke="#424BA8" stroke-width="2.0" />
<line x1="147.00" y1="585.80" x2="147.00" y2="949.00" stroke="#DA291A" stroke-width="2.0" />
<line x1="742.70" y1="585.80" x2="742.70" y2="949.00" stroke="#DA291A" stroke-width="2.0" />
<text transform="translate(101.58,28.37) scale(0.8189,1)" font-size="43.27" fill="#111" font-family='"Liberation Sans", sans-serif'>a</text>
<text transform="translate(403.59,1038.42) scale(1.0708,1)" font-size="37.87" fill="#111" font-family='"Liberation Serif", serif'>&#964;</text>
<text transform="translate(429.72,1038.60) scale(0.8483,1)" font-size="37.00" fill="#111" font-family='"Liberation Sans", sans-serif'>(s)</text>
<text transform="translate(29.20,523.26) rotate(-90) scale(0.7091,1)" font-size="36.38" fill="#111" font-family='"Liberation Sans", sans-serif'>P</text>
<path d="M9.60,497.10 L8.90,502.50 A1.50,1.50 0 0 0 11.90,502.50 L11.20,497.10 Z M11.20,497.10 L11.90,491.70 A1.50,1.50 0 0 0 8.90,491.70 L9.60,497.10 Z M10.00,497.79 L14.33,501.10 A1.50,1.50 0 0 0 15.83,498.50 L10.80,496.41 Z M10.00,496.41 L4.97,498.50 A1.50,1.50 0 0 0 6.47,501.10 L10.80,497.79 Z M10.80,496.41 L6.47,493.10 A1.50,1.50 0 0 0 4.97,495.70 L10.00,497.79 Z M10.80,497.79 L15.83,495.70 A1.50,1.50 0 0 0 14.33,493.10 L10.00,496.41 Z " fill="#111"/>
<text transform="translate(27.19,482.67) rotate(-90) scale(1.2278,1)" font-size="26.74" fill="#111" font-family='"Liberation Sans", sans-serif'>(</text>
<text transform="translate(29.30,472.35) rotate(-90) scale(0.8816,1)" font-size="35.72" fill="#111" font-family='"Liberation Sans", sans-serif'>k</text>
<text transform="translate(40.10,455.33) rotate(-90) scale(0.7602,1)" font-size="21.88" fill="#111" font-family='"Liberation Sans", sans-serif'>B</text>
<text transform="translate(29.10,444.42) rotate(-90) scale(0.8795,1)" font-size="35.51" fill="#111" font-family='"Liberation Sans", sans-serif'>T</text>
<text transform="translate(39.89,425.96) rotate(-90) scale(0.8071,1)" font-size="21.27" fill="#111" font-family='"Liberation Sans", sans-serif'>C</text>
<text transform="translate(29.26,412.71) rotate(-90) scale(0.7906,1)" font-size="34.31" fill="#111" font-family='"Liberation Sans", sans-serif'>s</text>
<text transform="translate(14.10,399.49) rotate(-90) scale(0.8942,1)" font-size="19.71" fill="#111" font-family='"Liberation Sans", sans-serif'>-1</text>
<text transform="translate(27.16,381.03) rotate(-90) scale(0.9559,1)" font-size="26.84" fill="#111" font-family='"Liberation Sans", sans-serif'>)</text>
<line x1="956.10" y1="66.50" x2="956.10" y2="81.00" stroke="#111" stroke-width="1.8" />
<line x1="1044.25" y1="66.50" x2="1044.25" y2="81.00" stroke="#111" stroke-width="1.8" />
<line x1="1132.40" y1="66.50" x2="1132.40" y2="81.00" stroke="#111" stroke-width="1.8" />
<line x1="1220.55" y1="66.50" x2="1220.55" y2="81.00" stroke="#111" stroke-width="1.8" />
<line x1="1308.70" y1="66.50" x2="1308.70" y2="81.00" stroke="#111" stroke-width="1.8" />
<line x1="1396.85" y1="66.50" x2="1396.85" y2="81.00" stroke="#111" stroke-width="1.8" />
<line x1="1485.00" y1="66.50" x2="1485.00" y2="81.00" stroke="#111" stroke-width="1.8" />
<line x1="911.90" y1="66.50" x2="911.90" y2="74.00" stroke="#111" stroke-width="1.8" />
<line x1="1000.05" y1="66.50" x2="1000.05" y2="74.00" stroke="#111" stroke-width="1.8" />
<line x1="1088.20" y1="66.50" x2="1088.20" y2="74.00" stroke="#111" stroke-width="1.8" />
<line x1="1176.35" y1="66.50" x2="1176.35" y2="74.00" stroke="#111" stroke-width="1.8" />
<line x1="1264.50" y1="66.50" x2="1264.50" y2="74.00" stroke="#111" stroke-width="1.8" />
<line x1="1352.65" y1="66.50" x2="1352.65" y2="74.00" stroke="#111" stroke-width="1.8" />
<line x1="1440.80" y1="66.50" x2="1440.80" y2="74.00" stroke="#111" stroke-width="1.8" />
<line x1="956.10" y1="221.70" x2="956.10" y2="236.20" stroke="#111" stroke-width="1.8" />
<line x1="1044.25" y1="221.70" x2="1044.25" y2="236.20" stroke="#111" stroke-width="1.8" />
<line x1="1132.40" y1="221.70" x2="1132.40" y2="236.20" stroke="#111" stroke-width="1.8" />
<line x1="1220.55" y1="221.70" x2="1220.55" y2="236.20" stroke="#111" stroke-width="1.8" />
<line x1="1308.70" y1="221.70" x2="1308.70" y2="236.20" stroke="#111" stroke-width="1.8" />
<line x1="1396.85" y1="221.70" x2="1396.85" y2="236.20" stroke="#111" stroke-width="1.8" />
<line x1="1485.00" y1="221.70" x2="1485.00" y2="236.20" stroke="#111" stroke-width="1.8" />
<line x1="911.90" y1="221.70" x2="911.90" y2="229.20" stroke="#111" stroke-width="1.8" />
<line x1="1000.05" y1="221.70" x2="1000.05" y2="229.20" stroke="#111" stroke-width="1.8" />
<line x1="1088.20" y1="221.70" x2="1088.20" y2="229.20" stroke="#111" stroke-width="1.8" />
<line x1="1176.35" y1="221.70" x2="1176.35" y2="229.20" stroke="#111" stroke-width="1.8" />
<line x1="1264.50" y1="221.70" x2="1264.50" y2="229.20" stroke="#111" stroke-width="1.8" />
<line x1="1352.65" y1="221.70" x2="1352.65" y2="229.20" stroke="#111" stroke-width="1.8" />
<line x1="1440.80" y1="221.70" x2="1440.80" y2="229.20" stroke="#111" stroke-width="1.8" />
<line x1="956.10" y1="584.20" x2="956.10" y2="598.70" stroke="#111" stroke-width="1.8" />
<line x1="1044.25" y1="584.20" x2="1044.25" y2="598.70" stroke="#111" stroke-width="1.8" />
<line x1="1132.40" y1="584.20" x2="1132.40" y2="598.70" stroke="#111" stroke-width="1.8" />
<line x1="1220.55" y1="584.20" x2="1220.55" y2="598.70" stroke="#111" stroke-width="1.8" />
<line x1="1308.70" y1="584.20" x2="1308.70" y2="598.70" stroke="#111" stroke-width="1.8" />
<line x1="1396.85" y1="584.20" x2="1396.85" y2="598.70" stroke="#111" stroke-width="1.8" />
<line x1="1485.00" y1="584.20" x2="1485.00" y2="598.70" stroke="#111" stroke-width="1.8" />
<line x1="911.90" y1="584.20" x2="911.90" y2="591.70" stroke="#111" stroke-width="1.8" />
<line x1="1000.05" y1="584.20" x2="1000.05" y2="591.70" stroke="#111" stroke-width="1.8" />
<line x1="1088.20" y1="584.20" x2="1088.20" y2="591.70" stroke="#111" stroke-width="1.8" />
<line x1="1176.35" y1="584.20" x2="1176.35" y2="591.70" stroke="#111" stroke-width="1.8" />
<line x1="1264.50" y1="584.20" x2="1264.50" y2="591.70" stroke="#111" stroke-width="1.8" />
<line x1="1352.65" y1="584.20" x2="1352.65" y2="591.70" stroke="#111" stroke-width="1.8" />
<line x1="1440.80" y1="584.20" x2="1440.80" y2="591.70" stroke="#111" stroke-width="1.8" />
<line x1="956.10" y1="947.00" x2="956.10" y2="961.50" stroke="#111" stroke-width="1.8" />
<line x1="1044.25" y1="947.00" x2="1044.25" y2="961.50" stroke="#111" stroke-width="1.8" />
<line x1="1132.40" y1="947.00" x2="1132.40" y2="961.50" stroke="#111" stroke-width="1.8" />
<line x1="1220.55" y1="947.00" x2="1220.55" y2="961.50" stroke="#111" stroke-width="1.8" />
<line x1="1308.70" y1="947.00" x2="1308.70" y2="961.50" stroke="#111" stroke-width="1.8" />
<line x1="1396.85" y1="947.00" x2="1396.85" y2="961.50" stroke="#111" stroke-width="1.8" />
<line x1="1485.00" y1="947.00" x2="1485.00" y2="961.50" stroke="#111" stroke-width="1.8" />
<line x1="911.90" y1="947.00" x2="911.90" y2="954.50" stroke="#111" stroke-width="1.8" />
<line x1="1000.05" y1="947.00" x2="1000.05" y2="954.50" stroke="#111" stroke-width="1.8" />
<line x1="1088.20" y1="947.00" x2="1088.20" y2="954.50" stroke="#111" stroke-width="1.8" />
<line x1="1176.35" y1="947.00" x2="1176.35" y2="954.50" stroke="#111" stroke-width="1.8" />
<line x1="1264.50" y1="947.00" x2="1264.50" y2="954.50" stroke="#111" stroke-width="1.8" />
<line x1="1352.65" y1="947.00" x2="1352.65" y2="954.50" stroke="#111" stroke-width="1.8" />
<line x1="1440.80" y1="947.00" x2="1440.80" y2="954.50" stroke="#111" stroke-width="1.8" />
<line x1="871.80" y1="91.80" x2="886.30" y2="91.80" stroke="#111" stroke-width="1.8" />
<line x1="1482.70" y1="91.80" x2="1497.20" y2="91.80" stroke="#111" stroke-width="1.8" />
<line x1="871.80" y1="144.10" x2="886.30" y2="144.10" stroke="#111" stroke-width="1.8" />
<line x1="1482.70" y1="144.10" x2="1497.20" y2="144.10" stroke="#111" stroke-width="1.8" />
<line x1="871.80" y1="196.40" x2="886.30" y2="196.40" stroke="#111" stroke-width="1.8" />
<line x1="1482.70" y1="196.40" x2="1497.20" y2="196.40" stroke="#111" stroke-width="1.8" />
<line x1="878.80" y1="117.90" x2="886.30" y2="117.90" stroke="#111" stroke-width="1.8" />
<line x1="1489.70" y1="117.90" x2="1497.20" y2="117.90" stroke="#111" stroke-width="1.8" />
<line x1="878.80" y1="170.20" x2="886.30" y2="170.20" stroke="#111" stroke-width="1.8" />
<line x1="1489.70" y1="170.20" x2="1497.20" y2="170.20" stroke="#111" stroke-width="1.8" />
<text transform="translate(802.56,97.56) scale(0.9830,1)" font-size="24.20" fill="#111" stroke="#111" stroke-width="0.35" font-family='"Liberation Sans", sans-serif'>0.270</text>
<text transform="translate(802.56,149.86) scale(0.9830,1)" font-size="24.20" fill="#111" stroke="#111" stroke-width="0.35" font-family='"Liberation Sans", sans-serif'>0.000</text>
<text transform="translate(794.59,202.16) scale(0.9830,1)" font-size="24.20" fill="#111" stroke="#111" stroke-width="0.35" font-family='"Liberation Sans", sans-serif'>-0.270</text>
<line x1="871.80" y1="240.80" x2="886.30" y2="240.80" stroke="#424BA8" stroke-width="1.8" />
<line x1="1482.70" y1="240.80" x2="1497.20" y2="240.80" stroke="#424BA8" stroke-width="1.8" />
<line x1="871.80" y1="331.80" x2="886.30" y2="331.80" stroke="#424BA8" stroke-width="1.8" />
<line x1="1482.70" y1="331.80" x2="1497.20" y2="331.80" stroke="#424BA8" stroke-width="1.8" />
<line x1="871.80" y1="422.90" x2="886.30" y2="422.90" stroke="#424BA8" stroke-width="1.8" />
<line x1="1482.70" y1="422.90" x2="1497.20" y2="422.90" stroke="#424BA8" stroke-width="1.8" />
<line x1="871.80" y1="514.00" x2="886.30" y2="514.00" stroke="#424BA8" stroke-width="1.8" />
<line x1="1482.70" y1="514.00" x2="1497.20" y2="514.00" stroke="#424BA8" stroke-width="1.8" />
<line x1="878.80" y1="286.30" x2="886.30" y2="286.30" stroke="#424BA8" stroke-width="1.8" />
<line x1="1489.70" y1="286.30" x2="1497.20" y2="286.30" stroke="#424BA8" stroke-width="1.8" />
<line x1="878.80" y1="377.40" x2="886.30" y2="377.40" stroke="#424BA8" stroke-width="1.8" />
<line x1="1489.70" y1="377.40" x2="1497.20" y2="377.40" stroke="#424BA8" stroke-width="1.8" />
<line x1="878.80" y1="468.50" x2="886.30" y2="468.50" stroke="#424BA8" stroke-width="1.8" />
<line x1="1489.70" y1="468.50" x2="1497.20" y2="468.50" stroke="#424BA8" stroke-width="1.8" />
<line x1="878.80" y1="559.60" x2="886.30" y2="559.60" stroke="#424BA8" stroke-width="1.8" />
<line x1="1489.70" y1="559.60" x2="1497.20" y2="559.60" stroke="#424BA8" stroke-width="1.8" />
<text transform="translate(802.68,246.56) scale(0.9830,1)" font-size="24.20" fill="#424BA8" stroke="#424BA8" stroke-width="0.35" font-family='"Liberation Sans", sans-serif'>0.086</text>
<text transform="translate(802.68,337.56) scale(0.9830,1)" font-size="24.20" fill="#424BA8" stroke="#424BA8" stroke-width="0.35" font-family='"Liberation Sans", sans-serif'>0.043</text>
<text transform="translate(802.56,428.66) scale(0.9830,1)" font-size="24.20" fill="#424BA8" stroke="#424BA8" stroke-width="0.35" font-family='"Liberation Sans", sans-serif'>0.000</text>
<text transform="translate(794.71,519.76) scale(0.9830,1)" font-size="24.20" fill="#424BA8" stroke="#424BA8" stroke-width="0.35" font-family='"Liberation Sans", sans-serif'>-0.043</text>
<line x1="878.80" y1="584.50" x2="886.30" y2="584.50" stroke="#DA291A" stroke-width="1.8" />
<line x1="871.80" y1="605.20" x2="886.30" y2="605.20" stroke="#DA291A" stroke-width="1.8" />
<line x1="1482.70" y1="605.20" x2="1497.20" y2="605.20" stroke="#DA291A" stroke-width="1.8" />
<line x1="871.80" y1="695.50" x2="886.30" y2="695.50" stroke="#DA291A" stroke-width="1.8" />
<line x1="1482.70" y1="695.50" x2="1497.20" y2="695.50" stroke="#DA291A" stroke-width="1.8" />
<line x1="871.80" y1="785.70" x2="886.30" y2="785.70" stroke="#DA291A" stroke-width="1.8" />
<line x1="1482.70" y1="785.70" x2="1497.20" y2="785.70" stroke="#DA291A" stroke-width="1.8" />
<line x1="871.80" y1="876.00" x2="886.30" y2="876.00" stroke="#DA291A" stroke-width="1.8" />
<line x1="1482.70" y1="876.00" x2="1497.20" y2="876.00" stroke="#DA291A" stroke-width="1.8" />
<line x1="878.80" y1="650.30" x2="886.30" y2="650.30" stroke="#DA291A" stroke-width="1.8" />
<line x1="1489.70" y1="650.30" x2="1497.20" y2="650.30" stroke="#DA291A" stroke-width="1.8" />
<line x1="878.80" y1="740.60" x2="886.30" y2="740.60" stroke="#DA291A" stroke-width="1.8" />
<line x1="1489.70" y1="740.60" x2="1497.20" y2="740.60" stroke="#DA291A" stroke-width="1.8" />
<line x1="878.80" y1="830.90" x2="886.30" y2="830.90" stroke="#DA291A" stroke-width="1.8" />
<line x1="1489.70" y1="830.90" x2="1497.20" y2="830.90" stroke="#DA291A" stroke-width="1.8" />
<line x1="878.80" y1="921.10" x2="886.30" y2="921.10" stroke="#DA291A" stroke-width="1.8" />
<line x1="1489.70" y1="921.10" x2="1497.20" y2="921.10" stroke="#DA291A" stroke-width="1.8" />
<text transform="translate(802.80,610.96) scale(0.9830,1)" font-size="24.20" fill="#DA291A" stroke="#DA291A" stroke-width="0.35" font-family='"Liberation Sans", sans-serif'>0.061</text>
<text transform="translate(802.56,701.26) scale(0.9830,1)" font-size="24.20" fill="#DA291A" stroke="#DA291A" stroke-width="0.35" font-family='"Liberation Sans", sans-serif'>0.000</text>
<text transform="translate(794.83,791.46) scale(0.9830,1)" font-size="24.20" fill="#DA291A" stroke="#DA291A" stroke-width="0.35" font-family='"Liberation Sans", sans-serif'>-0.061</text>
<text transform="translate(794.95,881.76) scale(0.9830,1)" font-size="24.20" fill="#DA291A" stroke="#DA291A" stroke-width="0.35" font-family='"Liberation Sans", sans-serif'>-0.122</text>
<text transform="translate(948.92,993.41) scale(0.9250,1)" font-size="29.14" fill="#111" stroke="#111" stroke-width="0.35" font-family='"Liberation Sans", sans-serif'>5</text>
<text transform="translate(1029.27,993.41) scale(0.9250,1)" font-size="28.73" fill="#111" stroke="#111" stroke-width="0.35" font-family='"Liberation Sans", sans-serif'>10</text>
<text transform="translate(1117.27,993.41) scale(0.9250,1)" font-size="29.14" fill="#111" stroke="#111" stroke-width="0.35" font-family='"Liberation Sans", sans-serif'>15</text>
<text transform="translate(1205.90,993.41) scale(0.9250,1)" font-size="28.73" fill="#111" stroke="#111" stroke-width="0.35" font-family='"Liberation Sans", sans-serif'>20</text>
<text transform="translate(1294.12,993.41) scale(0.9250,1)" font-size="28.73" fill="#111" stroke="#111" stroke-width="0.35" font-family='"Liberation Sans", sans-serif'>25</text>
<text transform="translate(1382.33,993.41) scale(0.9250,1)" font-size="28.73" fill="#111" stroke="#111" stroke-width="0.35" font-family='"Liberation Sans", sans-serif'>29</text>
<text transform="translate(1470.42,993.41) scale(0.9250,1)" font-size="28.73" fill="#111" stroke="#111" stroke-width="0.35" font-family='"Liberation Sans", sans-serif'>34</text>
<line x1="886.30" y1="134.70" x2="1497.20" y2="134.70" stroke="#111" stroke-width="2.0" />
<line x1="886.30" y1="275.40" x2="1497.20" y2="275.40" stroke="#111" stroke-width="2.0" />
<line x1="886.30" y1="617.40" x2="1497.20" y2="617.40" stroke="#111" stroke-width="2.0" />
<line x1="937.40" y1="66.50" x2="937.40" y2="221.70" stroke="#111" stroke-width="1.8" />
<line x1="1149.50" y1="161.60" x2="1181.70" y2="144.65" stroke="#2E2683" stroke-width="2.0" />
<polygon points="1193.20,138.60 1181.88,149.30 1177.97,141.87" fill="#2E2683"/>
<line x1="969.50" y1="314.90" x2="1015.53" y2="287.46" stroke="#2E2683" stroke-width="2.0" />
<polygon points="1026.70,280.80 1015.97,292.09 1011.67,284.87" fill="#2E2683"/>
<line x1="945.70" y1="657.80" x2="991.34" y2="630.56" stroke="#2E2683" stroke-width="2.0" />
<polygon points="1002.50,623.90 991.77,635.19 987.47,627.98" fill="#2E2683"/>
<text transform="translate(1124.92,169.92) scale(1.1549,1)" font-size="27.71" fill="#2E2683" font-family='"Liberation Serif", serif'>&#949;</text>
<text transform="translate(1138.13,181.91) scale(1.0076,1)" font-size="18.70" fill="#2E2683" font-family='"Liberation Sans", sans-serif'>sat</text>
<text transform="translate(944.53,328.30) scale(1.0571,1)" font-size="30.00" fill="#2E2683" font-family='"Liberation Serif", serif'>&#949;</text>
<text transform="translate(957.81,339.01) scale(1.0530,1)" font-size="18.70" fill="#2E2683" font-family='"Liberation Sans", sans-serif'>sat</text>
<text transform="translate(916.90,660.40) scale(1.0708,1)" font-size="30.42" fill="#2E2683" font-family='"Liberation Serif", serif'>&#949;</text>
<text transform="translate(930.11,671.01) scale(1.0447,1)" font-size="18.70" fill="#2E2683" font-family='"Liberation Sans", sans-serif'>sat</text>
<line x1="972.10" y1="120.80" x2="972.10" y2="136.20" stroke="#111" stroke-width="2.0" />
<line x1="965.60" y1="120.80" x2="978.60" y2="120.80" stroke="#111" stroke-width="2.0" />
<line x1="965.60" y1="136.20" x2="978.60" y2="136.20" stroke="#111" stroke-width="2.0" />
<line x1="938.75" y1="171.57" x2="941.58" y2="145.55" stroke="#111" stroke-width="1.8" stroke-dasharray="4.5 2.2"/>
<line x1="984.55" y1="129.59" x2="1009.53" y2="131.76" stroke="#111" stroke-width="1.8" stroke-dasharray="4.5 2.2"/>
<line x1="1030.46" y1="131.48" x2="1054.83" y2="129.49" stroke="#111" stroke-width="1.8" stroke-dasharray="4.5 2.2"/>
<line x1="1075.80" y1="128.77" x2="1200.90" y2="128.42" stroke="#111" stroke-width="1.8" stroke-dasharray="4.5 2.2"/>
<line x1="1221.90" y1="128.46" x2="1436.10" y2="129.46" stroke="#111" stroke-width="1.8" stroke-dasharray="4.5 2.2"/>
<circle cx="937.40" cy="184.00" r="6.6" fill="#111"/>
<circle cx="942.50" cy="137.10" r="6.6" fill="#111"/>
<circle cx="972.10" cy="128.50" r="6.6" fill="#111"/>
<circle cx="1018.00" cy="132.50" r="6.6" fill="#111"/>
<circle cx="1063.30" cy="128.80" r="6.6" fill="#111"/>
<circle cx="1209.40" cy="128.40" r="6.6" fill="#111"/>
<circle cx="1444.60" cy="129.50" r="6.6" fill="#111"/>
<line x1="902.30" y1="468.90" x2="902.30" y2="529.80" stroke="#424BA8" stroke-width="2.0" />
<line x1="895.60" y1="468.90" x2="909.00" y2="468.90" stroke="#424BA8" stroke-width="2.0" />
<line x1="895.60" y1="529.80" x2="909.00" y2="529.80" stroke="#424BA8" stroke-width="2.0" />
<line x1="942.00" y1="427.20" x2="942.00" y2="441.60" stroke="#424BA8" stroke-width="2.0" />
<line x1="936.25" y1="441.60" x2="947.75" y2="441.60" stroke="#424BA8" stroke-width="2.0" />
<line x1="1012.00" y1="351.10" x2="1012.00" y2="380.30" stroke="#424BA8" stroke-width="2.0" />
<line x1="1005.50" y1="351.10" x2="1018.50" y2="351.10" stroke="#424BA8" stroke-width="2.0" />
<line x1="1005.50" y1="380.30" x2="1018.50" y2="380.30" stroke="#424BA8" stroke-width="2.0" />
<line x1="1058.50" y1="331.30" x2="1058.50" y2="410.00" stroke="#424BA8" stroke-width="2.0" />
<line x1="1052.00" y1="331.30" x2="1065.00" y2="331.30" stroke="#424BA8" stroke-width="2.0" />
<line x1="1052.00" y1="410.00" x2="1065.00" y2="410.00" stroke="#424BA8" stroke-width="2.0" />
<line x1="1206.00" y1="322.00" x2="1206.00" y2="342.00" stroke="#424BA8" stroke-width="2.0" />
<line x1="1199.40" y1="322.00" x2="1212.60" y2="322.00" stroke="#424BA8" stroke-width="2.0" />
<line x1="1199.40" y1="342.00" x2="1212.60" y2="342.00" stroke="#424BA8" stroke-width="2.0" />
<line x1="1443.60" y1="248.60" x2="1443.60" y2="331.00" stroke="#424BA8" stroke-width="2.0" />
<line x1="1437.00" y1="248.60" x2="1450.20" y2="248.60" stroke="#424BA8" stroke-width="2.0" />
<line x1="1437.00" y1="331.00" x2="1450.20" y2="331.00" stroke="#424BA8" stroke-width="2.0" />
<line x1="908.17" y1="489.23" x2="937.47" y2="442.76" stroke="#424BA8" stroke-width="1.8" stroke-dasharray="4.6 2.4"/>
<line x1="949.78" y1="427.79" x2="1005.99" y2="371.58" stroke="#424BA8" stroke-width="1.8" stroke-dasharray="4.6 2.4"/>
<line x1="1022.93" y1="366.79" x2="1050.05" y2="369.82" stroke="#424BA8" stroke-width="1.8" stroke-dasharray="4.6 2.4"/>
<line x1="1069.14" y1="367.98" x2="1197.78" y2="334.22" stroke="#424BA8" stroke-width="1.8" stroke-dasharray="4.6 2.4"/>
<line x1="1216.83" y1="330.15" x2="1435.23" y2="291.55" stroke="#424BA8" stroke-width="1.8" stroke-dasharray="4.6 2.4"/>
<polygon points="894.20,494.40 910.40,494.40 902.30,506.80" fill="#424BA8"/>
<polygon points="933.90,431.10 950.10,431.10 942.00,444.50" fill="#424BA8"/>
<polygon points="1003.90,361.10 1020.10,361.10 1012.00,374.50" fill="#424BA8"/>
<polygon points="1050.40,366.50 1066.60,366.50 1058.50,379.30" fill="#424BA8"/>
<polygon points="1197.90,327.60 1214.10,327.60 1206.00,341.00" fill="#424BA8"/>
<polygon points="1435.50,285.60 1451.70,285.60 1443.60,299.00" fill="#424BA8"/>
<line x1="936.90" y1="782.90" x2="936.90" y2="921.70" stroke="#DA291A" stroke-width="2.0" />
<line x1="930.40" y1="782.90" x2="943.40" y2="782.90" stroke="#DA291A" stroke-width="2.0" />
<line x1="930.40" y1="921.70" x2="943.40" y2="921.70" stroke="#DA291A" stroke-width="2.0" />
<line x1="943.40" y1="736.40" x2="943.40" y2="908.50" stroke="#DA291A" stroke-width="2.0" />
<line x1="936.90" y1="736.40" x2="949.90" y2="736.40" stroke="#DA291A" stroke-width="2.0" />
<line x1="936.90" y1="908.50" x2="949.90" y2="908.50" stroke="#DA291A" stroke-width="2.0" />
<line x1="972.30" y1="743.20" x2="972.30" y2="829.10" stroke="#DA291A" stroke-width="2.0" />
<line x1="965.80" y1="743.20" x2="978.80" y2="743.20" stroke="#DA291A" stroke-width="2.0" />
<line x1="965.80" y1="829.10" x2="978.80" y2="829.10" stroke="#DA291A" stroke-width="2.0" />
<line x1="1018.00" y1="676.80" x2="1018.00" y2="773.00" stroke="#DA291A" stroke-width="2.0" />
<line x1="1011.50" y1="676.80" x2="1024.50" y2="676.80" stroke="#DA291A" stroke-width="2.0" />
<line x1="1011.50" y1="773.00" x2="1024.50" y2="773.00" stroke="#DA291A" stroke-width="2.0" />
<line x1="1063.60" y1="630.40" x2="1063.60" y2="700.50" stroke="#DA291A" stroke-width="2.0" />
<line x1="1057.10" y1="630.40" x2="1070.10" y2="630.40" stroke="#DA291A" stroke-width="2.0" />
<line x1="1057.10" y1="700.50" x2="1070.10" y2="700.50" stroke="#DA291A" stroke-width="2.0" />
<line x1="1209.50" y1="588.70" x2="1209.50" y2="671.00" stroke="#DA291A" stroke-width="2.0" />
<line x1="1203.00" y1="588.70" x2="1216.00" y2="588.70" stroke="#DA291A" stroke-width="2.0" />
<line x1="1203.00" y1="671.00" x2="1216.00" y2="671.00" stroke="#DA291A" stroke-width="2.0" />
<line x1="1445.00" y1="620.00" x2="1445.00" y2="654.40" stroke="#DA291A" stroke-width="2.0" />
<line x1="1438.50" y1="620.00" x2="1451.50" y2="620.00" stroke="#DA291A" stroke-width="2.0" />
<line x1="1438.50" y1="654.40" x2="1451.50" y2="654.40" stroke="#DA291A" stroke-width="2.0" />
<line x1="939.07" y1="842.14" x2="941.56" y2="830.90" stroke="#DA291A" stroke-width="1.8" stroke-dasharray="4.6 2.4"/>
<line x1="949.61" y1="814.76" x2="967.02" y2="792.76" stroke="#DA291A" stroke-width="1.8" stroke-dasharray="4.6 2.4"/>
<line x1="978.30" y1="778.10" x2="1012.90" y2="732.00" stroke="#DA291A" stroke-width="1.8" stroke-dasharray="4.6 2.4"/>
<line x1="1024.07" y1="717.25" x2="1058.44" y2="672.25" stroke="#DA291A" stroke-width="1.8" stroke-dasharray="4.6 2.4"/>
<line x1="1073.31" y1="663.11" x2="1201.25" y2="631.63" stroke="#DA291A" stroke-width="1.8" stroke-dasharray="4.6 2.4"/>
<line x1="1219.49" y1="629.95" x2="1436.51" y2="637.50" stroke="#DA291A" stroke-width="1.8" stroke-dasharray="4.6 2.4"/>
<rect x="930.50" y="845.50" width="12.8" height="12.8" fill="#DA291A"/>
<rect x="937.00" y="816.20" width="12.8" height="12.8" fill="#DA291A"/>
<rect x="965.90" y="779.70" width="12.8" height="12.8" fill="#DA291A"/>
<rect x="1011.60" y="718.80" width="12.8" height="12.8" fill="#DA291A"/>
<rect x="1057.20" y="659.10" width="12.8" height="12.8" fill="#DA291A"/>
<rect x="1203.10" y="623.20" width="12.8" height="12.8" fill="#DA291A"/>
<rect x="1438.60" y="631.40" width="12.8" height="12.8" fill="#DA291A"/>
<line x1="1065.10" y1="828.80" x2="1118.30" y2="828.80" stroke="#111" stroke-width="1.6" stroke-dasharray="4.5 2.2"/>
<circle cx="1093.10" cy="829.10" r="6.9" fill="#111"/>
<text transform="translate(1124.28,836.50) scale(1.0109,1)" font-size="20.25" fill="#111" font-family='"Liberation Sans", sans-serif'>Gaussian engine</text>
<line x1="1065.10" y1="858.10" x2="1118.30" y2="858.10" stroke="#424BA8" stroke-width="1.6" stroke-dasharray="4.5 2.2"/>
<polygon points="1085.05,854.20 1101.15,854.20 1093.10,867.70" fill="#424BA8"/>
<text transform="translate(1123.65,866.10) scale(1.0032,1)" font-size="20.53" fill="#111" font-family='"Liberation Sans", sans-serif'>Non-Gaussian engine (&#954; = 10)</text>
<line x1="1065.10" y1="887.60" x2="1118.30" y2="887.60" stroke="#DA291A" stroke-width="1.6" stroke-dasharray="4.5 2.2"/>
<rect x="1087.05" y="882.15" width="12.9" height="11.7" fill="#DA291A"/>
<text transform="translate(1123.65,895.70) scale(0.9898,1)" font-size="20.81" fill="#111" font-family='"Liberation Sans", sans-serif'>Non-Gaussian engine (&#954; = 20)</text>
<line x1="886.30" y1="66.50" x2="1497.20" y2="66.50" stroke="#111" stroke-width="2.0" />
<line x1="886.30" y1="221.70" x2="1497.20" y2="221.70" stroke="#111" stroke-width="2.0" />
<line x1="886.30" y1="584.20" x2="1497.20" y2="584.20" stroke="#111" stroke-width="2.0" />
<line x1="885.30" y1="947.00" x2="1498.20" y2="947.00" stroke="#111" stroke-width="2.0" />
<line x1="886.30" y1="65.50" x2="886.30" y2="221.70" stroke="#111" stroke-width="2.0" />
<line x1="1497.20" y1="65.50" x2="1497.20" y2="221.70" stroke="#111" stroke-width="2.0" />
<line x1="886.30" y1="221.70" x2="886.30" y2="584.20" stroke="#424BA8" stroke-width="2.0" />
<line x1="1497.20" y1="221.70" x2="1497.20" y2="584.20" stroke="#424BA8" stroke-width="2.0" />
<line x1="886.30" y1="584.20" x2="886.30" y2="947.00" stroke="#DA291A" stroke-width="2.0" />
<line x1="1497.20" y1="584.20" x2="1497.20" y2="947.00" stroke="#DA291A" stroke-width="2.0" />
<text transform="translate(845.41,33.63) scale(1.0433,1)" font-size="47.07" fill="#111" font-family='"Liberation Sans", sans-serif'>b</text>
<text transform="translate(1170.38,1038.34) scale(1.1223,1)" font-size="36.38" fill="#111" font-family='"Liberation Serif", serif'>&#964;</text>
<text transform="translate(1196.27,1038.40) scale(0.8453,1)" font-size="36.00" fill="#111" font-family='"Liberation Sans", sans-serif'>(s)</text>
<text transform="translate(783.70,453.37) rotate(-90) scale(1.0300,1)" font-size="50.21" fill="#111" font-family='"Liberation Serif", serif'>&#949;</text>
<path d="M766.60,419.80 L774.50,421.30 A2.30,2.30 0 0 0 774.50,416.70 L766.60,418.20 Z M766.60,418.20 L758.70,416.70 A2.30,2.30 0 0 0 758.70,421.30 L766.60,419.80 Z M765.91,419.40 L768.56,426.99 A2.30,2.30 0 0 0 772.54,424.69 L767.29,418.60 Z M765.91,418.60 L760.66,424.69 A2.30,2.30 0 0 0 764.64,426.99 L767.29,419.40 Z M767.29,418.60 L764.64,411.01 A2.30,2.30 0 0 0 760.66,413.31 L765.91,419.40 Z M767.29,419.40 L772.54,413.31 A2.30,2.30 0 0 0 768.56,411.01 L765.91,418.60 Z " fill="#111"/>
</g>
</svg></body></html>
